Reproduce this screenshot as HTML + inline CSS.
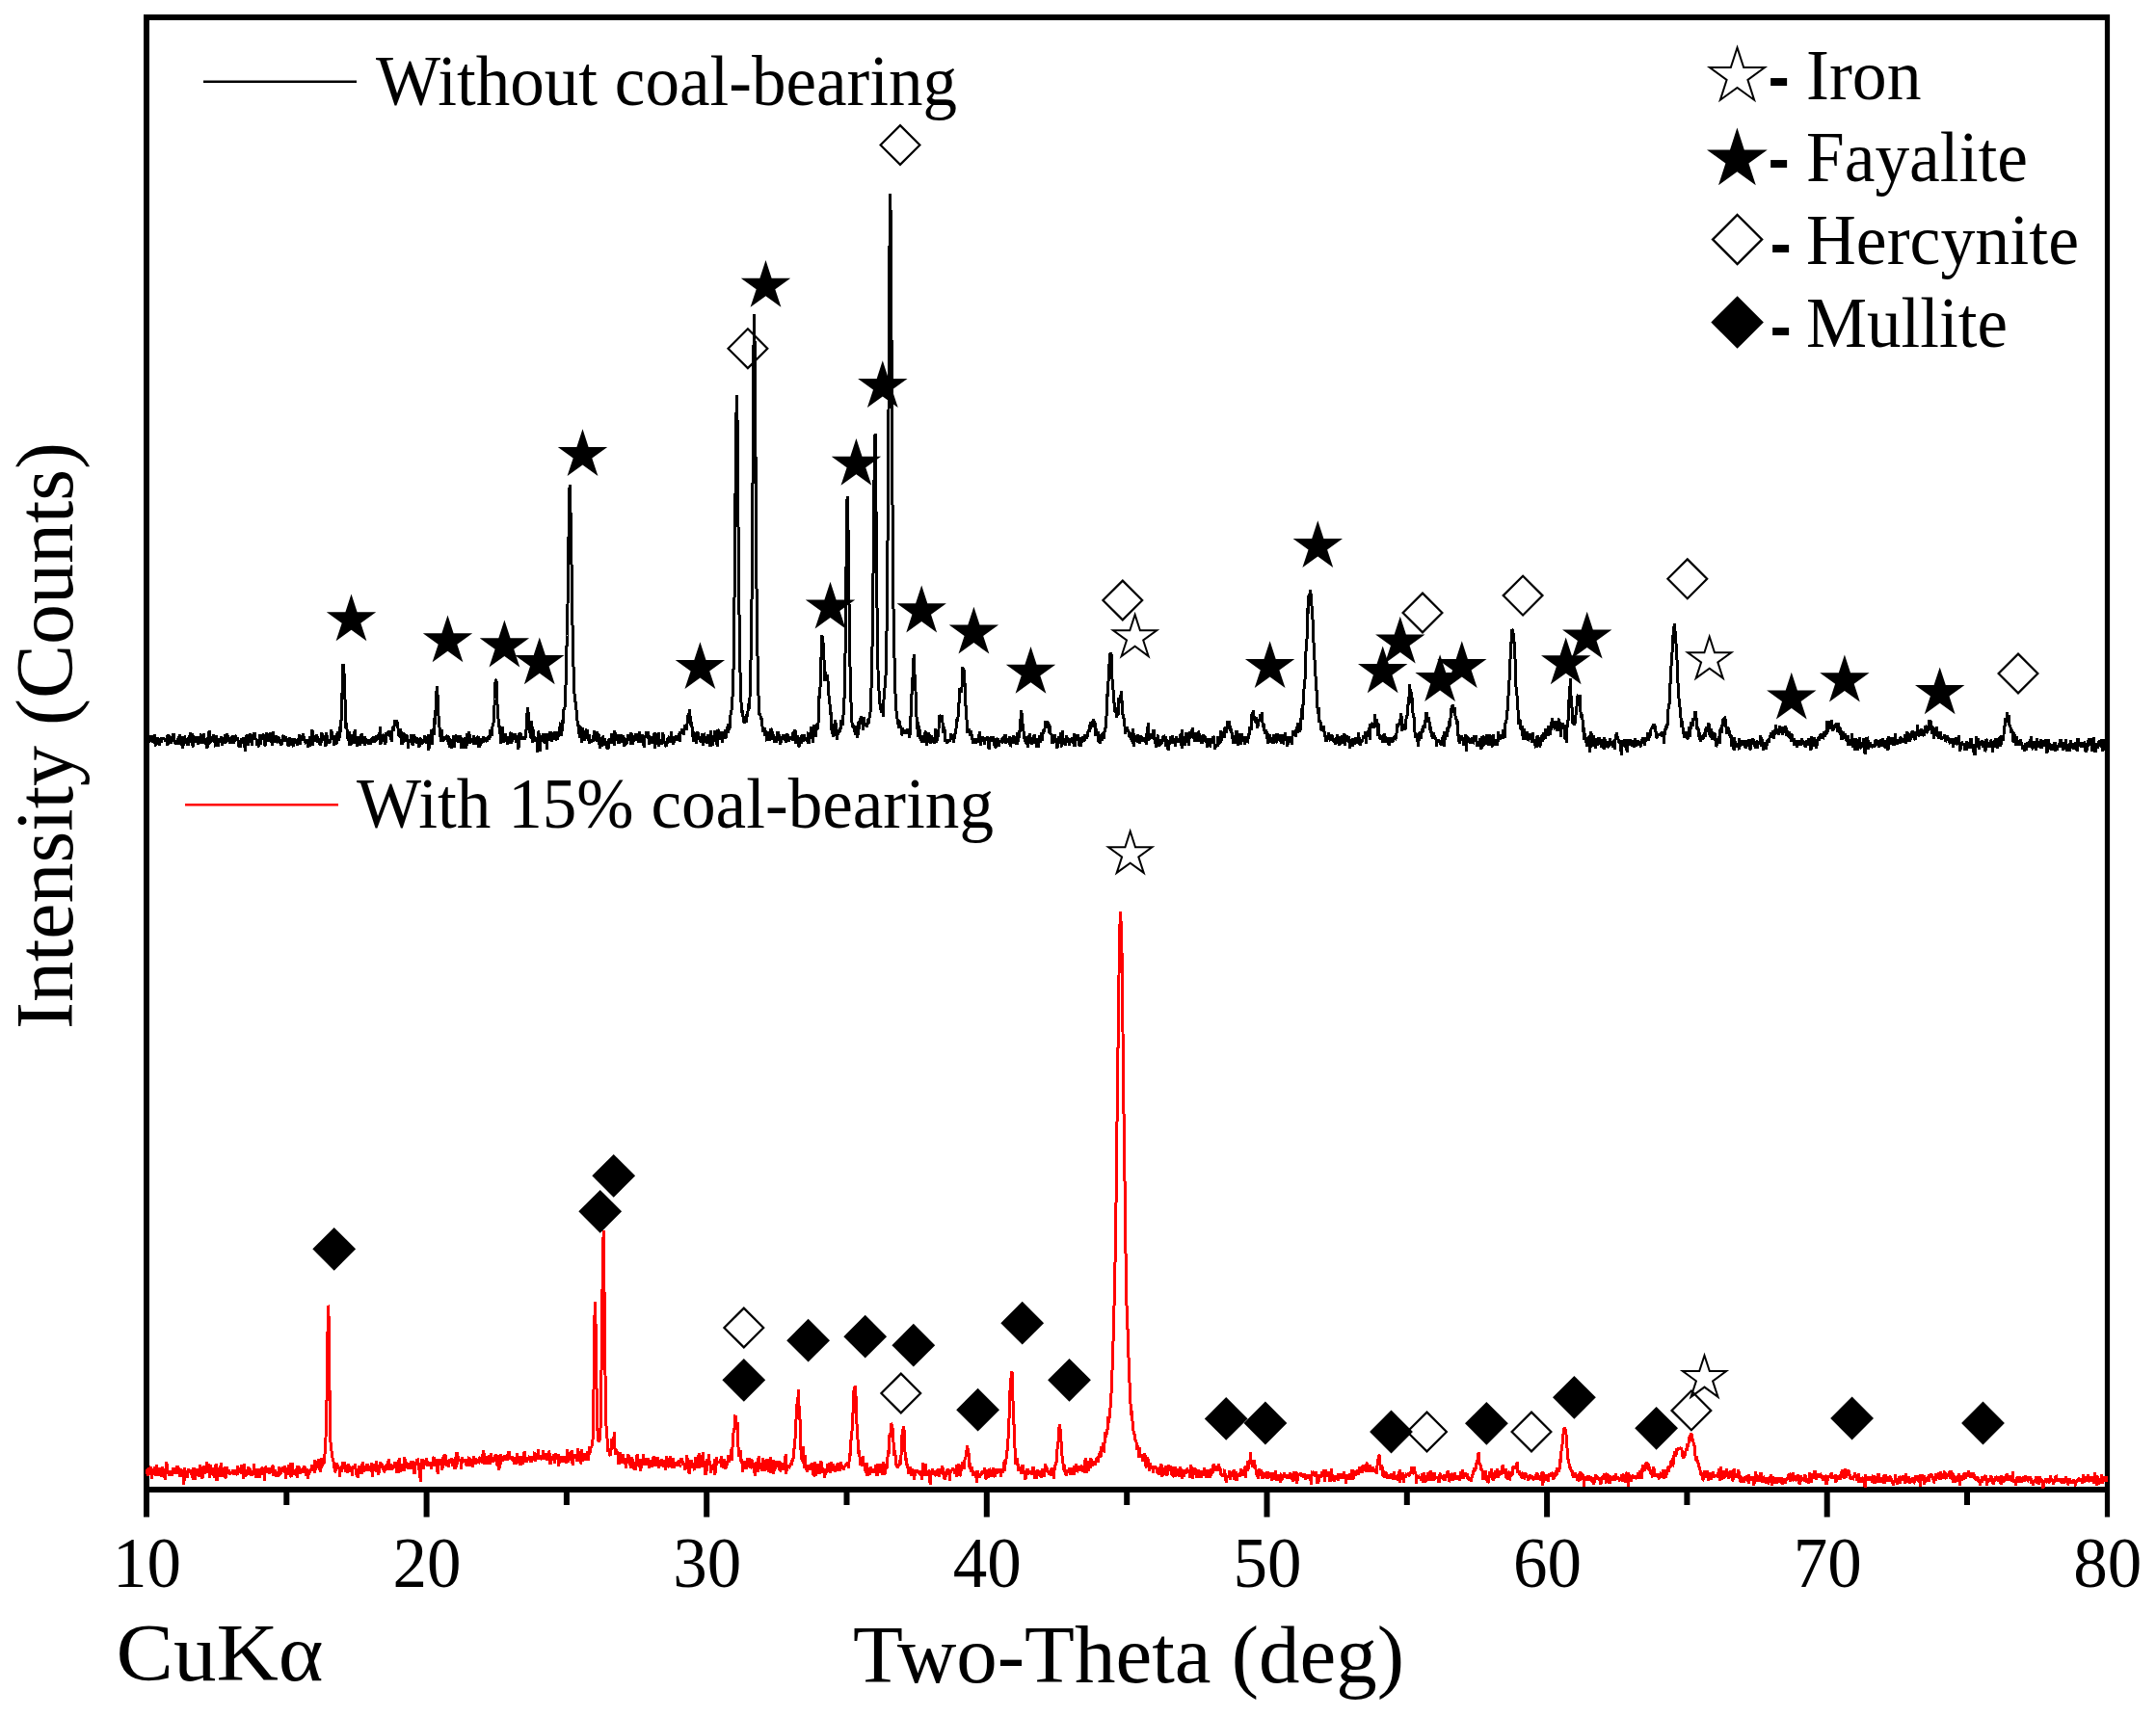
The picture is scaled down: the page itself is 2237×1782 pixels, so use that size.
<!DOCTYPE html>
<html><head><meta charset="utf-8"><title>XRD patterns</title>
<style>
html,body{margin:0;padding:0;background:#fff;}
body{width:2237px;height:1782px;overflow:hidden;}
svg{display:block;}
text{font-family:"Liberation Serif",serif;fill:#000;}
.ds{font-family:"Liberation Sans",sans-serif;font-weight:bold;}
</style></head><body>
<svg width="2237" height="1782" viewBox="0 0 2237 1782">
<rect width="2237" height="1782" fill="#fff"/>
<path d="M149 18H2189M149 1546H2189M152 15V1549" stroke="#000" stroke-width="6" fill="none"/>
<path d="M2186.5 15V1574.5" stroke="#000" stroke-width="5.2" fill="none"/>
<path d="M152.0 1546V1574.5M297.3 1546V1562M442.6 1546V1574.5M587.9 1546V1562M733.2 1546V1574.5M878.5 1546V1562M1023.8 1546V1574.5M1169.2 1546V1562M1314.5 1546V1574.5M1459.8 1546V1562M1605.1 1546V1574.5M1750.4 1546V1562M1895.7 1546V1574.5M2041.0 1546V1562" stroke="#000" stroke-width="6" fill="none"/>
<polyline fill="none" stroke="#000" stroke-width="3" stroke-linejoin="miter" stroke-miterlimit="2" shape-rendering="crispEdges" points="152.0,775.0 152.6,766.8 153.2,766.0 153.7,757.3 154.3,767.9 154.9,766.7 155.5,765.8 156.1,769.2 156.6,769.7 157.2,763.7 157.8,764.4 158.4,766.1 159.0,770.7 159.6,770.2 160.1,762.7 160.7,763.5 161.3,770.9 161.9,774.3 162.5,767.9 163.0,765.2 163.6,772.4 164.2,766.7 164.8,770.9 165.4,774.2 165.9,770.5 166.5,769.4 167.1,770.9 167.7,765.4 168.3,767.3 168.9,765.7 169.4,767.2 170.0,766.0 170.6,767.2 171.2,766.5 171.8,768.3 172.3,768.2 172.9,769.2 173.5,773.6 174.1,761.8 174.7,773.2 175.2,767.0 175.8,763.0 176.4,767.3 177.0,768.4 177.6,772.3 178.2,763.7 178.7,768.9 179.3,768.5 179.9,761.2 180.5,763.2 181.1,770.4 181.6,770.8 182.2,772.4 182.8,770.1 183.4,769.6 184.0,768.5 184.5,772.8 185.1,764.6 185.7,767.4 186.3,769.5 186.9,761.7 187.5,773.3 188.0,764.8 188.6,767.7 189.2,776.7 189.8,764.7 190.4,765.9 190.9,774.3 191.5,763.7 192.1,766.3 192.7,770.1 193.3,769.8 193.8,770.4 194.4,769.5 195.0,773.4 195.6,772.1 196.2,762.7 196.8,765.3 197.3,765.1 197.9,760.4 198.5,770.8 199.1,760.7 199.7,771.5 200.2,775.4 200.8,763.8 201.4,765.3 202.0,766.1 202.6,771.3 203.1,764.5 203.7,767.5 204.3,765.9 204.9,767.0 205.5,773.2 206.1,764.1 206.6,768.3 207.2,769.1 207.8,771.5 208.4,762.9 209.0,763.0 209.5,769.8 210.1,771.5 210.7,768.3 211.3,761.4 211.9,765.4 212.4,771.3 213.0,768.2 213.6,767.8 214.2,775.2 214.8,776.8 215.4,767.9 215.9,775.8 216.5,760.0 217.1,759.8 217.7,771.5 218.3,767.0 218.8,770.3 219.4,768.4 220.0,767.7 220.6,763.9 221.2,768.6 221.7,761.9 222.3,768.9 222.9,768.8 223.5,775.4 224.1,763.5 224.6,768.1 225.2,766.3 225.8,767.5 226.4,774.7 227.0,769.5 227.6,766.2 228.1,768.6 228.7,771.1 229.3,764.0 229.9,767.0 230.5,774.2 231.0,771.5 231.6,767.8 232.2,766.1 232.8,767.4 233.4,761.8 233.9,771.8 234.5,769.4 235.1,768.6 235.7,760.9 236.3,765.2 236.9,770.1 237.4,769.1 238.0,766.0 238.6,770.1 239.2,771.8 239.8,765.3 240.3,765.9 240.9,764.6 241.5,763.4 242.1,771.2 242.7,770.1 243.2,769.4 243.8,763.3 244.4,763.8 245.0,767.8 245.6,766.4 246.2,768.5 246.7,765.2 247.3,770.7 247.9,775.2 248.5,774.2 249.1,774.5 249.6,768.3 250.2,771.7 250.8,766.5 251.4,771.7 252.0,766.5 252.5,766.1 253.1,765.5 253.7,770.8 254.3,779.9 254.9,768.8 255.5,763.5 256.0,768.6 256.6,762.3 257.2,774.0 257.8,767.5 258.4,768.8 258.9,767.6 259.5,761.7 260.1,762.6 260.7,767.9 261.3,774.0 261.8,763.6 262.4,765.2 263.0,767.9 263.6,761.3 264.2,761.3 264.8,766.4 265.3,767.9 265.9,766.5 266.5,774.2 267.1,767.4 267.7,769.5 268.2,774.4 268.8,774.9 269.4,761.7 270.0,766.5 270.6,772.7 271.1,762.5 271.7,764.4 272.3,762.9 272.9,762.6 273.5,763.5 274.1,768.8 274.6,773.1 275.2,774.2 275.8,768.1 276.4,760.2 277.0,767.8 277.5,766.7 278.1,769.5 278.7,767.5 279.3,760.9 279.9,769.7 280.4,759.8 281.0,765.3 281.6,769.3 282.2,769.5 282.8,774.3 283.4,758.6 283.9,769.4 284.5,770.8 285.1,766.7 285.7,770.6 286.3,763.6 286.8,770.7 287.4,770.2 288.0,764.1 288.6,765.4 289.2,767.3 289.7,765.4 290.3,772.2 290.9,768.7 291.5,773.3 292.1,772.8 292.7,768.3 293.2,767.3 293.8,764.3 294.4,764.8 295.0,764.8 295.6,769.4 296.1,764.5 296.7,768.4 297.3,768.8 297.9,766.1 298.5,767.3 299.0,773.8 299.6,774.5 300.2,764.9 300.8,767.3 301.4,766.6 301.9,766.9 302.5,774.2 303.1,770.8 303.7,773.1 304.3,775.2 304.9,766.3 305.4,767.3 306.0,768.2 306.6,772.1 307.2,767.7 307.8,770.6 308.3,772.7 308.9,772.7 309.5,769.8 310.1,764.9 310.7,761.8 311.2,772.5 311.8,769.9 312.4,764.3 313.0,766.0 313.6,766.2 314.2,761.3 314.7,769.0 315.3,764.9 315.9,766.8 316.5,771.0 317.1,767.6 317.6,770.2 318.2,769.7 318.8,768.1 319.4,768.2 320.0,775.5 320.5,767.3 321.1,774.5 321.7,764.3 322.3,770.9 322.9,768.7 323.5,765.1 324.0,757.4 324.6,774.4 325.2,763.3 325.8,764.1 326.4,768.5 326.9,768.2 327.5,769.1 328.1,766.9 328.7,761.9 329.3,771.4 329.8,764.3 330.4,768.8 331.0,770.2 331.6,772.6 332.2,767.0 332.8,773.6 333.3,766.9 333.9,760.2 334.5,764.8 335.1,763.8 335.7,763.2 336.2,768.5 336.8,766.5 337.4,774.2 338.0,773.7 338.6,760.1 339.1,768.2 339.7,763.6 340.3,769.9 340.9,768.2 341.5,771.3 342.1,768.8 342.6,770.5 343.2,766.2 343.8,757.2 344.4,762.5 345.0,763.7 345.5,765.1 346.1,762.8 346.7,773.5 347.3,766.0 347.9,771.8 348.4,764.8 349.0,772.7 349.6,760.6 350.2,767.6 350.8,759.0 351.4,765.5 351.9,769.2 352.5,753.8 353.1,759.5 353.7,753.5 354.3,742.2 354.8,721.7 355.4,713.4 356.0,689.4 356.6,691.5 357.2,701.7 357.7,715.6 358.3,735.9 358.9,755.5 359.5,750.2 360.1,757.8 360.7,764.5 361.2,767.5 361.8,767.6 362.4,758.8 363.0,774.0 363.6,765.1 364.1,766.2 364.7,766.4 365.3,765.6 365.9,762.8 366.5,765.6 367.0,772.4 367.6,761.6 368.2,757.4 368.8,769.5 369.4,768.7 369.9,770.4 370.5,774.5 371.1,764.6 371.7,768.3 372.3,769.6 372.9,772.6 373.4,774.1 374.0,764.3 374.6,762.2 375.2,766.6 375.8,761.3 376.3,772.2 376.9,766.2 377.5,766.4 378.1,764.2 378.7,773.9 379.2,769.0 379.8,766.2 380.4,770.3 381.0,767.5 381.6,770.2 382.2,773.2 382.7,766.8 383.3,769.9 383.9,769.8 384.5,772.4 385.1,770.3 385.6,768.0 386.2,765.3 386.8,769.1 387.4,763.7 388.0,770.5 388.5,768.1 389.1,770.1 389.7,765.8 390.3,764.6 390.9,764.2 391.5,763.3 392.0,767.0 392.6,766.9 393.2,760.6 393.8,767.6 394.4,753.9 394.9,773.3 395.5,766.8 396.1,767.8 396.7,762.0 397.3,763.3 397.8,770.1 398.4,766.8 399.0,769.3 399.6,772.7 400.2,770.2 400.8,759.8 401.3,763.4 401.9,762.7 402.5,763.5 403.1,758.6 403.7,759.4 404.2,763.6 404.8,763.9 405.4,768.0 406.0,763.8 406.6,770.0 407.1,755.0 407.7,754.7 408.3,759.0 408.9,753.8 409.5,747.4 410.1,752.3 410.6,752.0 411.2,753.0 411.8,747.3 412.4,751.9 413.0,756.2 413.5,758.5 414.1,765.1 414.7,760.7 415.3,765.7 415.9,756.1 416.4,769.0 417.0,773.1 417.6,766.6 418.2,771.1 418.8,760.3 419.4,765.8 419.9,761.0 420.5,768.6 421.1,769.5 421.7,762.0 422.3,764.1 422.8,765.2 423.4,777.4 424.0,767.3 424.6,768.2 425.2,769.1 425.7,768.9 426.3,766.8 426.9,762.4 427.5,765.0 428.1,774.3 428.7,763.5 429.2,766.3 429.8,762.3 430.4,767.6 431.0,767.9 431.6,765.2 432.1,771.4 432.7,765.4 433.3,767.1 433.9,771.1 434.5,774.6 435.0,775.0 435.6,766.8 436.2,766.0 436.8,769.6 437.4,768.5 438.0,772.4 438.5,769.3 439.1,767.5 439.7,769.4 440.3,770.2 440.9,763.0 441.4,766.9 442.0,766.0 442.6,772.2 443.2,765.3 443.8,771.4 444.3,761.9 444.9,778.6 445.5,771.0 446.1,765.4 446.7,770.9 447.2,757.5 447.8,765.5 448.4,773.0 449.0,763.3 449.6,756.0 450.2,762.6 450.7,745.4 451.3,752.4 451.9,739.2 452.5,730.2 453.1,715.4 453.6,712.5 454.2,725.5 454.8,737.9 455.4,752.4 456.0,755.0 456.5,762.1 457.1,764.7 457.7,769.9 458.3,756.7 458.9,766.2 459.5,768.7 460.0,769.1 460.6,764.3 461.2,765.7 461.8,766.6 462.4,767.6 462.9,764.9 463.5,764.7 464.1,762.9 464.7,765.9 465.3,773.1 465.8,763.8 466.4,771.5 467.0,775.5 467.6,768.5 468.2,777.2 468.8,767.2 469.3,774.5 469.9,767.7 470.5,763.0 471.1,769.3 471.7,775.5 472.2,765.6 472.8,769.9 473.4,764.0 474.0,764.4 474.6,769.8 475.1,767.3 475.7,770.3 476.3,765.9 476.9,763.3 477.5,765.3 478.1,768.2 478.6,777.3 479.2,766.8 479.8,766.1 480.4,769.8 481.0,776.5 481.5,765.8 482.1,766.9 482.7,768.3 483.3,771.1 483.9,776.8 484.4,763.1 485.0,761.5 485.6,768.8 486.2,770.3 486.8,759.2 487.4,765.7 487.9,772.0 488.5,766.0 489.1,770.1 489.7,768.8 490.3,770.7 490.8,769.9 491.4,763.5 492.0,773.1 492.6,765.8 493.2,768.6 493.7,772.6 494.3,765.8 494.9,766.5 495.5,765.0 496.1,764.2 496.7,776.1 497.2,769.8 497.8,775.4 498.4,770.8 499.0,768.1 499.6,766.6 500.1,768.8 500.7,767.5 501.3,771.3 501.9,764.0 502.5,768.1 503.0,769.2 503.6,766.2 504.2,766.1 504.8,769.1 505.4,768.9 506.0,765.9 506.5,766.0 507.1,763.4 507.7,767.5 508.3,764.2 508.9,757.4 509.4,761.6 510.0,764.0 510.6,760.3 511.2,751.7 511.8,753.3 512.3,744.7 512.9,734.0 513.5,725.5 514.1,705.5 514.7,705.9 515.2,708.1 515.8,726.0 516.4,739.2 517.0,746.3 517.6,754.7 518.2,752.9 518.7,762.2 519.3,756.6 519.9,771.9 520.5,768.6 521.1,758.2 521.6,754.1 522.2,770.8 522.8,762.3 523.4,768.3 524.0,761.0 524.5,766.7 525.1,767.7 525.7,769.2 526.3,765.5 526.9,772.9 527.5,763.9 528.0,772.2 528.6,767.1 529.2,769.3 529.8,760.8 530.4,760.2 530.9,771.5 531.5,762.4 532.1,765.9 532.7,766.0 533.3,761.6 533.8,768.2 534.4,761.7 535.0,762.6 535.6,771.0 536.2,764.1 536.8,770.3 537.3,769.9 537.9,777.6 538.5,769.0 539.1,759.7 539.7,764.4 540.2,765.3 540.8,761.6 541.4,768.1 542.0,764.6 542.6,768.1 543.1,764.5 543.7,767.6 544.3,765.1 544.9,767.3 545.5,760.6 546.1,757.0 546.6,743.5 547.2,738.3 547.8,734.5 548.4,746.6 549.0,753.9 549.5,758.7 550.1,760.9 550.7,763.3 551.3,767.2 551.9,748.0 552.4,771.2 553.0,756.7 553.6,765.7 554.2,765.3 554.8,769.7 555.4,767.7 555.9,766.7 556.5,767.2 557.1,770.7 557.7,781.2 558.3,768.4 558.8,758.6 559.4,765.2 560.0,768.6 560.6,780.3 561.2,763.7 561.7,765.3 562.3,769.0 562.9,768.0 563.5,761.3 564.1,770.5 564.7,761.2 565.2,765.4 565.8,771.8 566.4,761.0 567.0,764.9 567.6,777.6 568.1,765.1 568.7,761.8 569.3,763.6 569.9,769.2 570.5,759.3 571.0,763.0 571.6,759.4 572.2,760.5 572.8,770.3 573.4,764.5 574.0,762.8 574.5,766.1 575.1,761.2 575.7,758.9 576.3,768.2 576.9,766.8 577.4,759.2 578.0,765.2 578.6,767.8 579.2,763.2 579.8,762.5 580.3,754.4 580.9,758.1 581.5,749.6 582.1,764.2 582.7,754.0 583.3,758.6 583.8,747.1 584.4,751.3 585.0,736.4 585.6,736.1 586.2,732.5 586.7,720.4 587.3,702.6 587.9,673.2 588.5,659.5 589.1,621.3 589.6,584.3 590.2,545.2 590.8,507.6 591.4,503.1 592.0,531.4 592.5,545.8 593.1,592.6 593.7,626.2 594.3,670.8 594.9,689.2 595.5,703.3 596.0,719.8 596.6,726.3 597.2,729.6 597.8,732.8 598.4,745.3 598.9,746.3 599.5,754.1 600.1,751.7 600.7,757.7 601.3,765.5 601.8,754.0 602.4,754.7 603.0,764.8 603.6,771.2 604.2,758.2 604.8,755.3 605.3,761.7 605.9,768.9 606.5,766.6 607.1,759.5 607.7,763.2 608.2,763.2 608.8,758.2 609.4,758.5 610.0,767.0 610.6,767.6 611.1,762.2 611.7,772.1 612.3,769.7 612.9,767.8 613.5,768.6 614.1,767.6 614.6,769.2 615.2,769.9 615.8,766.7 616.4,758.1 617.0,765.9 617.5,763.2 618.1,761.8 618.7,769.2 619.3,759.5 619.9,770.3 620.4,764.3 621.0,762.0 621.6,763.5 622.2,776.6 622.8,773.1 623.4,766.0 623.9,771.6 624.5,774.5 625.1,763.7 625.7,766.1 626.3,771.1 626.8,769.0 627.4,765.9 628.0,774.0 628.6,769.5 629.2,770.7 629.7,777.2 630.3,769.5 630.9,778.3 631.5,768.8 632.1,766.9 632.7,768.1 633.2,771.2 633.8,770.3 634.4,769.1 635.0,761.6 635.6,763.2 636.1,766.6 636.7,770.6 637.3,773.6 637.9,757.9 638.5,767.1 639.0,765.8 639.6,767.3 640.2,768.6 640.8,764.3 641.4,762.3 642.0,771.9 642.5,770.8 643.1,766.1 643.7,767.3 644.3,765.8 644.9,762.0 645.4,770.4 646.0,765.1 646.6,763.2 647.2,765.4 647.8,774.5 648.3,769.6 648.9,768.8 649.5,768.2 650.1,771.3 650.7,770.8 651.3,762.5 651.8,766.9 652.4,765.2 653.0,768.7 653.6,767.6 654.2,759.7 654.7,772.5 655.3,768.9 655.9,760.8 656.5,772.5 657.1,768.3 657.6,769.7 658.2,767.9 658.8,768.5 659.4,765.8 660.0,761.1 660.5,765.3 661.1,767.3 661.7,767.9 662.3,770.4 662.9,767.4 663.5,758.7 664.0,770.7 664.6,764.5 665.2,762.3 665.8,766.4 666.4,762.2 666.9,769.2 667.5,764.0 668.1,775.6 668.7,766.7 669.3,765.4 669.8,765.0 670.4,758.9 671.0,764.2 671.6,764.6 672.2,766.3 672.8,758.7 673.3,767.8 673.9,772.9 674.5,765.9 675.1,767.5 675.7,769.4 676.2,764.4 676.8,765.9 677.4,771.6 678.0,768.5 678.6,762.7 679.1,760.5 679.7,777.0 680.3,769.5 680.9,761.3 681.5,768.4 682.1,770.5 682.6,768.2 683.2,760.2 683.8,775.1 684.4,770.2 685.0,767.0 685.5,770.5 686.1,766.9 686.7,772.5 687.3,771.4 687.9,759.7 688.4,771.8 689.0,769.4 689.6,770.8 690.2,771.4 690.8,774.1 691.4,773.6 691.9,771.3 692.5,766.2 693.1,770.5 693.7,765.8 694.3,763.8 694.8,769.5 695.4,769.1 696.0,769.1 696.6,758.9 697.2,770.0 697.7,770.3 698.3,768.0 698.9,772.8 699.5,763.9 700.1,768.7 700.7,765.8 701.2,767.1 701.8,763.0 702.4,766.2 703.0,769.2 703.6,766.4 704.1,766.7 704.7,761.2 705.3,770.0 705.9,759.1 706.5,760.6 707.0,761.4 707.6,756.7 708.2,759.5 708.8,756.2 709.4,762.4 710.0,757.4 710.5,756.9 711.1,751.7 711.7,756.6 712.3,757.6 712.9,752.9 713.4,744.2 714.0,742.7 714.6,741.4 715.2,741.4 715.8,736.1 716.3,753.3 716.9,748.4 717.5,753.3 718.1,754.5 718.7,759.1 719.3,769.7 719.8,759.3 720.4,762.2 721.0,760.8 721.6,763.3 722.2,772.2 722.7,763.6 723.3,764.5 723.9,759.1 724.5,765.1 725.1,767.6 725.6,764.7 726.2,765.2 726.8,770.1 727.4,769.0 728.0,766.5 728.6,763.7 729.1,760.8 729.7,773.7 730.3,760.6 730.9,769.5 731.5,766.1 732.0,763.9 732.6,770.5 733.2,763.8 733.8,771.9 734.4,762.6 734.9,768.8 735.5,765.5 736.1,762.8 736.7,775.1 737.3,770.1 737.8,757.6 738.4,772.1 739.0,774.2 739.6,765.3 740.2,765.5 740.8,767.7 741.3,758.4 741.9,766.6 742.5,769.7 743.1,763.5 743.7,770.2 744.2,774.5 744.8,757.4 745.4,757.8 746.0,762.1 746.6,767.4 747.1,766.2 747.7,760.6 748.3,759.5 748.9,760.9 749.5,770.6 750.1,759.3 750.6,760.4 751.2,766.3 751.8,760.8 752.4,757.2 753.0,766.7 753.5,761.3 754.1,756.2 754.7,756.4 755.3,760.8 755.9,751.5 756.4,754.9 757.0,755.5 757.6,753.4 758.2,737.6 758.8,739.0 759.4,733.2 759.9,725.5 760.5,713.3 761.1,691.5 761.7,647.9 762.3,594.6 762.8,538.5 763.4,466.6 764.0,427.9 764.6,410.4 765.2,447.6 765.7,517.3 766.3,574.1 766.9,630.4 767.5,671.5 768.1,702.8 768.7,723.3 769.2,731.8 769.8,738.5 770.4,738.6 771.0,744.2 771.6,743.6 772.1,751.0 772.7,744.0 773.3,746.7 773.9,747.8 774.5,749.5 775.0,741.7 775.6,742.0 776.2,736.6 776.8,730.5 777.4,735.8 778.0,724.4 778.5,701.7 779.1,681.6 779.7,653.3 780.3,594.1 780.9,519.3 781.4,446.5 782.0,358.6 782.6,326.0 783.2,365.5 783.8,436.7 784.3,526.6 784.9,599.9 785.5,656.2 786.1,685.0 786.7,716.3 787.3,727.0 787.8,742.4 788.4,741.5 789.0,742.6 789.6,746.0 790.2,746.1 790.7,753.1 791.3,754.7 791.9,760.2 792.5,758.0 793.1,755.1 793.6,763.9 794.2,758.5 794.8,762.1 795.4,767.7 796.0,767.4 796.6,759.5 797.1,762.5 797.7,768.9 798.3,767.7 798.9,766.2 799.5,767.8 800.0,755.6 800.6,763.4 801.2,758.9 801.8,762.4 802.4,763.6 802.9,767.2 803.5,770.2 804.1,768.7 804.7,770.9 805.3,764.3 805.8,771.0 806.4,765.1 807.0,758.8 807.6,765.8 808.2,768.1 808.8,762.3 809.3,767.1 809.9,772.4 810.5,765.3 811.1,766.1 811.7,766.2 812.2,762.5 812.8,764.5 813.4,762.4 814.0,765.3 814.6,763.3 815.1,770.4 815.7,766.1 816.3,770.0 816.9,761.5 817.5,766.5 818.1,768.9 818.6,769.4 819.2,764.1 819.8,766.2 820.4,767.1 821.0,765.3 821.5,765.0 822.1,768.8 822.7,761.9 823.3,759.4 823.9,764.7 824.4,767.8 825.0,757.4 825.6,772.1 826.2,767.1 826.8,769.0 827.4,763.3 827.9,766.5 828.5,774.0 829.1,774.1 829.7,769.1 830.3,765.4 830.8,766.1 831.4,771.8 832.0,763.6 832.6,762.6 833.2,765.8 833.7,770.0 834.3,761.9 834.9,767.6 835.5,767.6 836.1,766.5 836.7,765.2 837.2,769.5 837.8,768.0 838.4,759.6 839.0,771.9 839.6,767.0 840.1,766.3 840.7,763.3 841.3,763.3 841.9,753.9 842.5,763.0 843.0,766.0 843.6,770.9 844.2,759.9 844.8,752.3 845.4,756.7 846.0,759.3 846.5,764.9 847.1,751.3 847.7,756.3 848.3,755.9 848.9,751.9 849.4,742.6 850.0,721.7 850.6,724.9 851.2,707.4 851.8,692.0 852.3,667.9 852.9,658.8 853.5,667.2 854.1,667.6 854.7,680.6 855.3,689.1 855.8,706.6 856.4,696.7 857.0,701.8 857.6,704.0 858.2,700.0 858.7,705.5 859.3,708.6 859.9,721.5 860.5,723.1 861.1,732.4 861.6,741.9 862.2,739.0 862.8,757.5 863.4,750.7 864.0,761.6 864.6,764.4 865.1,763.5 865.7,760.7 866.3,757.6 866.9,746.9 867.5,762.9 868.0,759.5 868.6,767.6 869.2,758.9 869.8,762.4 870.4,757.6 870.9,760.5 871.5,756.3 872.1,756.0 872.7,747.2 873.3,750.3 873.9,750.2 874.4,752.7 875.0,742.7 875.6,726.5 876.2,723.6 876.8,692.6 877.3,659.3 877.9,600.7 878.5,536.3 879.1,515.4 879.7,519.4 880.2,567.3 880.8,610.1 881.4,659.5 882.0,691.6 882.6,721.3 883.1,730.4 883.7,748.9 884.3,751.3 884.9,754.8 885.5,752.5 886.1,756.1 886.6,760.0 887.2,753.5 887.8,762.9 888.4,757.3 889.0,762.7 889.5,766.1 890.1,762.0 890.7,749.0 891.3,757.0 891.9,748.5 892.4,746.7 893.0,746.9 893.6,743.3 894.2,750.7 894.8,748.3 895.4,757.9 895.9,755.9 896.5,744.4 897.1,751.9 897.7,751.8 898.3,754.0 898.8,752.3 899.4,755.0 900.0,752.0 900.6,746.2 901.2,750.5 901.7,749.6 902.3,741.7 902.9,741.2 903.5,729.3 904.1,711.2 904.7,690.4 905.2,659.6 905.8,616.1 906.4,555.7 907.0,498.6 907.6,458.2 908.1,450.0 908.7,495.7 909.3,563.0 909.9,621.8 910.5,666.9 911.0,695.1 911.6,713.8 912.2,718.1 912.8,730.7 913.4,730.0 914.0,736.9 914.5,739.9 915.1,732.9 915.7,733.8 916.3,744.0 916.9,726.6 917.4,723.3 918.0,714.3 918.6,703.2 919.2,700.1 919.8,669.3 920.3,633.7 920.9,578.7 921.5,491.5 922.1,413.8 922.7,298.6 923.3,214.6 923.8,201.3 924.4,249.2 925.0,352.9 925.6,458.9 926.2,553.3 926.7,605.7 927.3,655.2 927.9,677.4 928.5,707.0 929.1,722.3 929.6,726.1 930.2,743.2 930.8,742.4 931.4,751.5 932.0,746.7 932.6,756.3 933.1,748.3 933.7,754.1 934.3,754.3 934.9,753.2 935.5,763.1 936.0,762.5 936.6,754.8 937.2,761.2 937.8,759.2 938.4,759.9 938.9,762.1 939.5,757.6 940.1,760.6 940.7,761.1 941.3,757.1 941.9,757.1 942.4,762.2 943.0,757.6 943.6,765.7 944.2,761.8 944.8,744.7 945.3,742.1 945.9,721.8 946.5,715.4 947.1,700.7 947.7,689.9 948.2,679.3 948.8,696.4 949.4,708.0 950.0,717.4 950.6,727.0 951.1,747.1 951.7,757.0 952.3,749.2 952.9,764.6 953.5,752.7 954.1,757.8 954.6,760.6 955.2,769.3 955.8,766.0 956.4,766.4 957.0,770.8 957.5,765.6 958.1,763.1 958.7,771.2 959.3,764.5 959.9,760.4 960.4,758.7 961.0,766.5 961.6,773.6 962.2,769.1 962.8,766.4 963.4,771.1 963.9,760.2 964.5,768.1 965.1,764.2 965.7,771.9 966.3,763.0 966.8,769.6 967.4,769.1 968.0,766.3 968.6,770.0 969.2,765.5 969.7,771.7 970.3,764.7 970.9,756.2 971.5,770.3 972.1,768.8 972.7,763.9 973.2,763.8 973.8,760.0 974.4,750.4 975.0,741.9 975.6,743.3 976.1,744.9 976.7,748.5 977.3,741.9 977.9,747.1 978.5,760.7 979.0,754.4 979.6,756.8 980.2,758.0 980.8,770.0 981.4,767.6 982.0,768.6 982.5,772.1 983.1,769.5 983.7,771.2 984.3,767.3 984.9,769.4 985.4,768.3 986.0,768.5 986.6,760.8 987.2,764.5 987.8,763.7 988.3,762.2 988.9,764.2 989.5,771.1 990.1,766.5 990.7,761.5 991.3,760.2 991.8,761.6 992.4,746.2 993.0,747.8 993.6,747.5 994.2,742.0 994.7,732.4 995.3,726.8 995.9,713.9 996.5,717.6 997.1,718.8 997.6,717.1 998.2,711.4 998.8,691.8 999.4,694.3 1000.0,697.5 1000.6,695.6 1001.1,711.9 1001.7,727.2 1002.3,737.0 1002.9,745.2 1003.5,754.2 1004.0,760.4 1004.6,757.6 1005.2,756.6 1005.8,759.5 1006.4,761.4 1006.9,764.0 1007.5,758.7 1008.1,762.2 1008.7,764.6 1009.3,771.4 1009.9,768.3 1010.4,765.9 1011.0,770.2 1011.6,767.6 1012.2,766.2 1012.8,771.4 1013.3,768.7 1013.9,768.0 1014.5,770.4 1015.1,765.5 1015.7,767.9 1016.2,759.5 1016.8,766.2 1017.4,774.0 1018.0,766.6 1018.6,768.0 1019.2,766.4 1019.7,764.1 1020.3,770.1 1020.9,768.1 1021.5,772.5 1022.1,764.8 1022.6,768.4 1023.2,767.0 1023.8,766.0 1024.4,765.6 1025.0,765.5 1025.5,764.9 1026.1,778.4 1026.7,768.2 1027.3,767.7 1027.9,770.3 1028.4,764.6 1029.0,769.9 1029.6,763.9 1030.2,766.7 1030.8,766.3 1031.4,773.9 1031.9,771.1 1032.5,775.9 1033.1,775.2 1033.7,766.0 1034.3,770.7 1034.8,767.0 1035.4,766.2 1036.0,773.4 1036.6,774.3 1037.2,769.2 1037.7,770.0 1038.3,768.5 1038.9,770.0 1039.5,770.1 1040.1,764.8 1040.7,771.1 1041.2,766.0 1041.8,764.1 1042.4,768.2 1043.0,761.8 1043.6,772.0 1044.1,770.2 1044.7,769.8 1045.3,766.1 1045.9,770.2 1046.5,769.5 1047.0,765.9 1047.6,765.7 1048.2,775.3 1048.8,771.5 1049.4,764.9 1050.0,768.9 1050.5,767.4 1051.1,772.1 1051.7,763.1 1052.3,766.5 1052.9,767.0 1053.4,770.3 1054.0,766.6 1054.6,773.3 1055.2,760.3 1055.8,773.0 1056.3,766.9 1056.9,767.4 1057.5,758.1 1058.1,759.5 1058.7,747.7 1059.3,745.3 1059.8,737.2 1060.4,743.8 1061.0,754.5 1061.6,751.5 1062.2,762.6 1062.7,764.0 1063.3,769.8 1063.9,764.4 1064.5,768.3 1065.1,772.9 1065.6,764.5 1066.2,775.5 1066.8,769.1 1067.4,767.3 1068.0,762.9 1068.6,761.3 1069.1,772.1 1069.7,766.5 1070.3,765.9 1070.9,772.5 1071.5,771.0 1072.0,768.8 1072.6,764.5 1073.2,762.4 1073.8,772.0 1074.4,768.0 1074.9,767.1 1075.5,775.6 1076.1,766.3 1076.7,769.3 1077.3,776.1 1077.9,769.8 1078.4,764.7 1079.0,763.0 1079.6,770.6 1080.2,759.8 1080.8,767.0 1081.3,768.8 1081.9,760.0 1082.5,761.9 1083.1,756.7 1083.7,760.3 1084.2,753.6 1084.8,748.0 1085.4,751.7 1086.0,750.8 1086.6,748.3 1087.2,756.1 1087.7,749.3 1088.3,752.9 1088.9,761.2 1089.5,752.8 1090.1,763.3 1090.6,761.8 1091.2,762.4 1091.8,771.4 1092.4,769.3 1093.0,764.7 1093.5,768.2 1094.1,771.3 1094.7,761.7 1095.3,768.9 1095.9,767.2 1096.4,769.8 1097.0,776.7 1097.6,765.8 1098.2,767.1 1098.8,763.8 1099.4,769.4 1099.9,771.0 1100.5,759.7 1101.1,774.4 1101.7,774.9 1102.3,758.2 1102.8,762.7 1103.4,770.6 1104.0,769.1 1104.6,773.3 1105.2,767.6 1105.7,773.8 1106.3,763.4 1106.9,770.4 1107.5,767.1 1108.1,766.9 1108.7,768.7 1109.2,767.2 1109.8,774.2 1110.4,766.2 1111.0,767.9 1111.6,769.3 1112.1,765.0 1112.7,769.8 1113.3,771.0 1113.9,767.8 1114.5,761.4 1115.0,774.7 1115.6,768.9 1116.2,768.6 1116.8,767.8 1117.4,766.3 1118.0,762.0 1118.5,768.3 1119.1,769.1 1119.7,772.3 1120.3,774.9 1120.9,765.5 1121.4,774.6 1122.0,768.5 1122.6,770.4 1123.2,763.9 1123.8,769.2 1124.3,763.9 1124.9,770.1 1125.5,762.0 1126.1,766.7 1126.7,764.2 1127.3,766.5 1127.8,765.0 1128.4,763.3 1129.0,759.0 1129.6,757.2 1130.2,759.7 1130.7,752.0 1131.3,756.9 1131.9,749.0 1132.5,751.0 1133.1,749.9 1133.6,750.3 1134.2,755.2 1134.8,745.8 1135.4,751.1 1136.0,749.7 1136.6,764.0 1137.1,762.8 1137.7,755.7 1138.3,764.3 1138.9,762.4 1139.5,759.4 1140.0,769.4 1140.6,769.2 1141.2,766.2 1141.8,771.4 1142.4,764.9 1142.9,762.8 1143.5,768.8 1144.1,759.7 1144.7,765.2 1145.3,765.3 1145.9,760.0 1146.4,757.3 1147.0,755.8 1147.6,750.4 1148.2,740.4 1148.8,719.8 1149.3,723.4 1149.9,707.3 1150.5,705.7 1151.1,686.3 1151.7,679.5 1152.2,677.3 1152.8,680.8 1153.4,679.3 1154.0,704.7 1154.6,710.0 1155.2,718.6 1155.7,719.5 1156.3,738.4 1156.9,736.1 1157.5,740.3 1158.1,735.0 1158.6,744.8 1159.2,742.2 1159.8,733.7 1160.4,742.3 1161.0,724.1 1161.5,729.7 1162.1,726.1 1162.7,725.2 1163.3,716.8 1163.9,724.8 1164.5,735.6 1165.0,741.7 1165.6,742.4 1166.2,746.7 1166.8,750.1 1167.4,761.6 1167.9,758.2 1168.5,758.7 1169.1,754.8 1169.7,756.5 1170.3,760.0 1170.8,756.9 1171.4,764.0 1172.0,764.8 1172.6,762.3 1173.2,767.7 1173.7,766.4 1174.3,759.9 1174.9,770.0 1175.5,756.2 1176.1,775.2 1176.7,761.6 1177.2,767.7 1177.8,766.2 1178.4,769.2 1179.0,764.8 1179.6,770.0 1180.1,761.6 1180.7,770.9 1181.3,766.7 1181.9,769.3 1182.5,771.8 1183.0,762.8 1183.6,765.1 1184.2,764.3 1184.8,766.6 1185.4,767.4 1186.0,769.3 1186.5,766.9 1187.1,765.0 1187.7,767.4 1188.3,769.0 1188.9,768.3 1189.4,772.5 1190.0,761.0 1190.6,764.2 1191.2,750.4 1191.8,760.2 1192.3,765.6 1192.9,768.3 1193.5,761.4 1194.1,765.7 1194.7,764.5 1195.3,766.8 1195.8,766.1 1196.4,763.7 1197.0,757.1 1197.6,760.5 1198.2,768.5 1198.7,767.0 1199.3,775.9 1199.9,768.1 1200.5,771.7 1201.1,763.6 1201.6,763.0 1202.2,769.4 1202.8,775.3 1203.4,770.4 1204.0,767.6 1204.6,770.5 1205.1,771.4 1205.7,770.7 1206.3,769.1 1206.9,764.9 1207.5,764.6 1208.0,767.1 1208.6,768.6 1209.2,764.0 1209.8,775.3 1210.4,771.5 1210.9,767.1 1211.5,772.1 1212.1,778.6 1212.7,770.1 1213.3,770.0 1213.9,773.2 1214.4,763.9 1215.0,767.0 1215.6,766.2 1216.2,772.2 1216.8,762.6 1217.3,770.5 1217.9,767.3 1218.5,768.1 1219.1,767.0 1219.7,774.9 1220.2,765.8 1220.8,764.5 1221.4,770.4 1222.0,766.9 1222.6,771.1 1223.2,768.9 1223.7,769.2 1224.3,769.3 1224.9,762.4 1225.5,761.1 1226.1,776.8 1226.6,757.3 1227.2,770.8 1227.8,764.2 1228.4,768.1 1229.0,767.3 1229.5,773.8 1230.1,767.0 1230.7,761.4 1231.3,761.5 1231.9,767.9 1232.5,769.7 1233.0,769.2 1233.6,773.7 1234.2,758.9 1234.8,763.6 1235.4,758.7 1235.9,764.3 1236.5,766.1 1237.1,755.2 1237.7,766.0 1238.3,765.5 1238.8,761.7 1239.4,760.6 1240.0,770.1 1240.6,763.3 1241.2,760.0 1241.7,765.4 1242.3,769.6 1242.9,768.8 1243.5,758.7 1244.1,761.5 1244.7,765.7 1245.2,768.2 1245.8,768.5 1246.4,763.3 1247.0,772.0 1247.6,770.4 1248.1,762.5 1248.7,765.0 1249.3,768.4 1249.9,763.0 1250.5,769.1 1251.0,769.7 1251.6,767.3 1252.2,771.3 1252.8,776.1 1253.4,766.5 1254.0,770.9 1254.5,767.3 1255.1,775.1 1255.7,774.0 1256.3,769.1 1256.9,766.7 1257.4,772.1 1258.0,768.8 1258.6,764.3 1259.2,765.1 1259.8,768.4 1260.3,777.4 1260.9,773.2 1261.5,774.3 1262.1,772.6 1262.7,774.3 1263.3,774.7 1263.8,764.5 1264.4,771.1 1265.0,771.1 1265.6,770.5 1266.2,770.1 1266.7,758.5 1267.3,768.8 1267.9,762.5 1268.5,759.4 1269.1,764.7 1269.6,764.8 1270.2,764.5 1270.8,755.0 1271.4,760.7 1272.0,754.1 1272.6,760.9 1273.1,752.5 1273.7,748.0 1274.3,756.8 1274.9,750.1 1275.5,748.1 1276.0,753.4 1276.6,755.2 1277.2,760.5 1277.8,756.4 1278.4,766.7 1278.9,765.3 1279.5,771.8 1280.1,768.5 1280.7,763.0 1281.3,771.6 1281.9,766.7 1282.4,768.3 1283.0,758.4 1283.6,763.2 1284.2,773.6 1284.8,772.5 1285.3,761.4 1285.9,769.6 1286.5,769.6 1287.1,773.1 1287.7,763.9 1288.2,761.4 1288.8,769.3 1289.4,765.5 1290.0,765.6 1290.6,764.3 1291.2,772.6 1291.7,764.1 1292.3,771.0 1292.9,769.3 1293.5,763.8 1294.1,769.5 1294.6,769.8 1295.2,764.9 1295.8,760.8 1296.4,762.8 1297.0,754.3 1297.5,756.7 1298.1,758.2 1298.7,743.4 1299.3,739.1 1299.9,748.3 1300.5,737.5 1301.0,743.1 1301.6,747.0 1302.2,745.4 1302.8,750.2 1303.4,743.7 1303.9,749.5 1304.5,755.8 1305.1,753.0 1305.7,747.4 1306.3,748.5 1306.8,747.3 1307.4,744.9 1308.0,740.9 1308.6,746.8 1309.2,739.0 1309.8,748.9 1310.3,751.5 1310.9,754.3 1311.5,751.6 1312.1,760.6 1312.7,761.2 1313.2,756.8 1313.8,761.8 1314.4,759.1 1315.0,766.8 1315.6,771.5 1316.1,770.1 1316.7,762.9 1317.3,763.1 1317.9,766.5 1318.5,766.8 1319.0,770.4 1319.6,766.3 1320.2,772.0 1320.8,765.6 1321.4,771.8 1322.0,762.0 1322.5,765.6 1323.1,767.9 1323.7,771.0 1324.3,769.8 1324.9,762.4 1325.4,762.6 1326.0,767.6 1326.6,767.3 1327.2,766.1 1327.8,767.5 1328.3,762.3 1328.9,769.4 1329.5,771.3 1330.1,763.8 1330.7,763.9 1331.3,772.0 1331.8,771.2 1332.4,763.8 1333.0,764.1 1333.6,759.8 1334.2,768.5 1334.7,767.2 1335.3,766.4 1335.9,775.0 1336.5,765.2 1337.1,765.3 1337.6,766.6 1338.2,764.6 1338.8,771.3 1339.4,764.2 1340.0,765.1 1340.6,773.2 1341.1,761.6 1341.7,758.7 1342.3,763.8 1342.9,760.2 1343.5,759.6 1344.0,762.5 1344.6,764.4 1345.2,754.0 1345.8,758.6 1346.4,749.9 1346.9,761.0 1347.5,751.6 1348.1,756.9 1348.7,759.7 1349.3,755.5 1349.9,748.7 1350.4,735.0 1351.0,747.2 1351.6,732.2 1352.2,731.4 1352.8,718.5 1353.3,711.3 1353.9,710.2 1354.5,684.7 1355.1,675.0 1355.7,667.0 1356.2,660.5 1356.8,630.7 1357.4,636.9 1358.0,618.6 1358.6,616.6 1359.2,622.4 1359.7,612.2 1360.3,619.5 1360.9,628.8 1361.5,631.1 1362.1,645.3 1362.6,656.7 1363.2,671.3 1363.8,681.2 1364.4,691.7 1365.0,701.7 1365.5,717.2 1366.1,716.0 1366.7,729.4 1367.3,740.8 1367.9,733.9 1368.5,736.6 1369.0,750.3 1369.6,747.0 1370.2,749.6 1370.8,757.2 1371.4,757.4 1371.9,754.7 1372.5,757.2 1373.1,753.5 1373.7,758.0 1374.3,760.7 1374.8,763.9 1375.4,764.6 1376.0,769.8 1376.6,763.0 1377.2,767.6 1377.8,765.1 1378.3,760.5 1378.9,766.0 1379.5,766.4 1380.1,767.9 1380.7,767.5 1381.2,766.3 1381.8,762.4 1382.4,765.0 1383.0,767.5 1383.6,769.1 1384.1,769.9 1384.7,768.7 1385.3,769.5 1385.9,772.7 1386.5,768.0 1387.0,765.2 1387.6,761.9 1388.2,767.7 1388.8,770.1 1389.4,766.3 1390.0,773.6 1390.5,764.5 1391.1,766.5 1391.7,767.9 1392.3,763.3 1392.9,772.1 1393.4,765.3 1394.0,763.6 1394.6,761.2 1395.2,771.9 1395.8,773.3 1396.3,764.5 1396.9,762.9 1397.5,766.7 1398.1,768.4 1398.7,766.4 1399.3,770.4 1399.8,764.4 1400.4,776.6 1401.0,770.0 1401.6,772.6 1402.2,767.1 1402.7,772.4 1403.3,775.2 1403.9,766.0 1404.5,769.3 1405.1,772.7 1405.6,770.4 1406.2,765.6 1406.8,767.0 1407.4,771.1 1408.0,770.1 1408.6,766.3 1409.1,770.1 1409.7,760.2 1410.3,769.1 1410.9,772.5 1411.5,772.4 1412.0,767.1 1412.6,769.7 1413.2,769.5 1413.8,768.1 1414.4,765.3 1414.9,762.8 1415.5,765.8 1416.1,763.1 1416.7,759.4 1417.3,772.0 1417.9,761.1 1418.4,763.7 1419.0,763.0 1419.6,757.7 1420.2,764.8 1420.8,755.3 1421.3,767.7 1421.9,753.1 1422.5,753.4 1423.1,753.8 1423.7,751.6 1424.2,749.9 1424.8,752.6 1425.4,752.1 1426.0,755.5 1426.6,740.8 1427.2,751.0 1427.7,750.7 1428.3,748.4 1428.9,746.3 1429.5,764.1 1430.1,761.4 1430.6,751.2 1431.2,766.7 1431.8,764.1 1432.4,764.6 1433.0,768.1 1433.5,763.4 1434.1,766.0 1434.7,770.9 1435.3,763.0 1435.9,762.5 1436.5,761.4 1437.0,771.2 1437.6,764.2 1438.2,767.0 1438.8,766.5 1439.4,770.7 1439.9,769.8 1440.5,765.2 1441.1,773.9 1441.7,770.0 1442.3,769.6 1442.8,766.4 1443.4,766.6 1444.0,766.8 1444.6,767.5 1445.2,768.8 1445.8,768.2 1446.3,764.8 1446.9,764.4 1447.5,766.5 1448.1,767.0 1448.7,765.5 1449.2,758.2 1449.8,750.9 1450.4,754.5 1451.0,752.4 1451.6,750.2 1452.1,750.8 1452.7,746.1 1453.3,749.0 1453.9,739.9 1454.5,758.5 1455.1,752.8 1455.6,752.8 1456.2,757.3 1456.8,754.7 1457.4,752.4 1458.0,757.6 1458.5,752.0 1459.1,745.2 1459.7,746.2 1460.3,739.2 1460.9,732.3 1461.4,729.1 1462.0,722.9 1462.6,710.5 1463.2,717.7 1463.8,723.5 1464.3,718.1 1464.9,729.8 1465.5,723.6 1466.1,742.6 1466.7,741.1 1467.3,747.5 1467.8,757.6 1468.4,763.9 1469.0,763.6 1469.6,762.1 1470.2,760.9 1470.7,764.7 1471.3,774.6 1471.9,770.9 1472.5,760.0 1473.1,762.3 1473.6,759.2 1474.2,766.6 1474.8,762.4 1475.4,756.3 1476.0,760.4 1476.6,757.3 1477.1,752.8 1477.7,753.3 1478.3,755.7 1478.9,747.7 1479.5,745.4 1480.0,738.9 1480.6,742.2 1481.2,749.8 1481.8,747.5 1482.4,744.3 1482.9,747.3 1483.5,757.9 1484.1,754.8 1484.7,755.8 1485.3,764.8 1485.9,760.4 1486.4,760.7 1487.0,766.4 1487.6,760.6 1488.2,764.8 1488.8,763.9 1489.3,767.9 1489.9,766.2 1490.5,775.0 1491.1,770.7 1491.7,768.2 1492.2,770.4 1492.8,767.4 1493.4,769.3 1494.0,770.6 1494.6,770.0 1495.2,773.7 1495.7,770.3 1496.3,765.2 1496.9,768.8 1497.5,763.1 1498.1,775.1 1498.6,759.3 1499.2,765.6 1499.8,767.3 1500.4,760.5 1501.0,761.1 1501.5,765.2 1502.1,753.9 1502.7,760.0 1503.3,752.8 1503.9,748.1 1504.5,754.1 1505.0,745.1 1505.6,739.7 1506.2,733.7 1506.8,733.4 1507.4,731.0 1507.9,740.3 1508.5,735.4 1509.1,734.5 1509.7,739.3 1510.3,747.1 1510.8,744.6 1511.4,749.7 1512.0,749.4 1512.6,749.3 1513.2,770.2 1513.8,762.0 1514.3,771.4 1514.9,767.7 1515.5,767.5 1516.1,762.7 1516.7,767.4 1517.2,768.6 1517.8,764.7 1518.4,771.3 1519.0,773.5 1519.6,770.7 1520.1,769.9 1520.7,762.5 1521.3,780.0 1521.9,772.3 1522.5,764.9 1523.1,765.1 1523.6,767.0 1524.2,765.8 1524.8,769.8 1525.4,771.3 1526.0,770.3 1526.5,768.1 1527.1,768.8 1527.7,765.3 1528.3,770.6 1528.9,770.9 1529.4,766.8 1530.0,763.5 1530.6,770.1 1531.2,763.0 1531.8,766.8 1532.3,771.7 1532.9,774.7 1533.5,768.8 1534.1,771.1 1534.7,774.8 1535.3,765.8 1535.8,768.1 1536.4,768.9 1537.0,777.9 1537.6,765.1 1538.2,765.0 1538.7,773.4 1539.3,774.3 1539.9,765.1 1540.5,769.8 1541.1,773.2 1541.6,768.6 1542.2,762.0 1542.8,770.1 1543.4,772.9 1544.0,764.3 1544.6,774.2 1545.1,767.8 1545.7,761.9 1546.3,773.0 1546.9,762.8 1547.5,774.0 1548.0,770.4 1548.6,775.4 1549.2,761.7 1549.8,768.6 1550.4,773.7 1550.9,772.5 1551.5,770.1 1552.1,768.9 1552.7,769.8 1553.3,771.0 1553.9,773.8 1554.4,759.4 1555.0,762.0 1555.6,763.3 1556.2,766.0 1556.8,766.3 1557.3,762.7 1557.9,763.2 1558.5,765.8 1559.1,766.6 1559.7,757.5 1560.2,758.2 1560.8,757.8 1561.4,765.7 1562.0,749.9 1562.6,750.5 1563.2,745.0 1563.7,737.5 1564.3,736.7 1564.9,724.4 1565.5,713.3 1566.1,705.2 1566.6,694.7 1567.2,678.8 1567.8,667.0 1568.4,666.5 1569.0,652.6 1569.5,658.5 1570.1,657.0 1570.7,661.5 1571.3,670.6 1571.9,679.7 1572.5,702.3 1573.0,713.1 1573.6,718.2 1574.2,723.9 1574.8,733.5 1575.4,742.5 1575.9,752.0 1576.5,748.0 1577.1,746.8 1577.7,757.1 1578.3,756.6 1578.8,756.2 1579.4,753.3 1580.0,764.1 1580.6,768.3 1581.2,758.1 1581.8,757.9 1582.3,762.2 1582.9,763.6 1583.5,767.3 1584.1,765.9 1584.7,759.1 1585.2,767.2 1585.8,767.5 1586.4,764.5 1587.0,768.0 1587.6,761.6 1588.1,765.7 1588.7,761.9 1589.3,767.4 1589.9,770.5 1590.5,759.9 1591.1,767.8 1591.6,770.6 1592.2,768.8 1592.8,774.2 1593.4,767.7 1594.0,776.4 1594.5,768.3 1595.1,763.2 1595.7,767.3 1596.3,765.2 1596.9,772.4 1597.4,774.0 1598.0,774.1 1598.6,770.3 1599.2,766.5 1599.8,764.4 1600.4,761.9 1600.9,769.7 1601.5,760.5 1602.1,763.9 1602.7,765.2 1603.3,765.4 1603.8,757.4 1604.4,757.1 1605.0,756.6 1605.6,763.8 1606.2,754.9 1606.7,754.8 1607.3,760.0 1607.9,760.4 1608.5,763.3 1609.1,754.6 1609.6,757.6 1610.2,745.5 1610.8,754.7 1611.4,755.0 1612.0,754.9 1612.6,748.4 1613.1,756.0 1613.7,756.7 1614.3,750.0 1614.9,750.3 1615.5,748.9 1616.0,759.4 1616.6,751.3 1617.2,746.6 1617.8,746.9 1618.4,752.2 1618.9,752.0 1619.5,765.3 1620.1,754.9 1620.7,752.7 1621.3,750.1 1621.9,756.7 1622.4,754.4 1623.0,751.9 1623.6,767.3 1624.2,751.9 1624.8,766.1 1625.3,770.8 1625.9,756.4 1626.5,749.7 1627.1,747.2 1627.7,730.5 1628.2,723.5 1628.8,716.1 1629.4,704.1 1630.0,722.4 1630.6,726.6 1631.2,738.1 1631.7,750.5 1632.3,743.9 1632.9,751.1 1633.5,752.2 1634.1,750.4 1634.6,744.4 1635.2,740.9 1635.8,735.6 1636.4,727.8 1637.0,722.0 1637.5,721.2 1638.1,723.5 1638.7,725.4 1639.3,720.7 1639.9,737.7 1640.5,745.2 1641.0,741.2 1641.6,742.0 1642.2,749.3 1642.8,757.3 1643.4,757.0 1643.9,767.8 1644.5,761.2 1645.1,767.8 1645.7,767.2 1646.3,775.1 1646.8,768.6 1647.4,769.4 1648.0,764.7 1648.6,767.4 1649.2,763.5 1649.8,781.4 1650.3,769.3 1650.9,758.7 1651.5,769.6 1652.1,771.1 1652.7,771.8 1653.2,763.0 1653.8,774.8 1654.4,770.3 1655.0,769.9 1655.6,777.1 1656.1,771.3 1656.7,767.3 1657.3,767.1 1657.9,773.4 1658.5,770.7 1659.1,771.0 1659.6,765.6 1660.2,771.2 1660.8,768.1 1661.4,767.6 1662.0,775.6 1662.5,771.8 1663.1,769.7 1663.7,774.6 1664.3,778.0 1664.9,765.0 1665.4,774.4 1666.0,771.8 1666.6,770.6 1667.2,776.2 1667.8,773.5 1668.4,769.2 1668.9,775.7 1669.5,770.2 1670.1,770.9 1670.7,766.0 1671.3,771.3 1671.8,773.3 1672.4,769.8 1673.0,771.1 1673.6,775.9 1674.2,770.5 1674.7,768.6 1675.3,777.5 1675.9,768.3 1676.5,761.9 1677.1,766.1 1677.6,760.6 1678.2,766.4 1678.8,766.7 1679.4,769.1 1680.0,770.3 1680.6,770.0 1681.1,771.0 1681.7,775.2 1682.3,783.6 1682.9,775.6 1683.5,773.6 1684.0,768.5 1684.6,771.4 1685.2,767.0 1685.8,770.9 1686.4,766.9 1686.9,775.1 1687.5,779.0 1688.1,774.7 1688.7,781.2 1689.3,766.7 1689.9,774.3 1690.4,770.5 1691.0,771.6 1691.6,766.9 1692.2,770.7 1692.8,770.5 1693.3,768.2 1693.9,775.2 1694.5,773.7 1695.1,775.4 1695.7,768.8 1696.2,768.3 1696.8,766.3 1697.4,773.9 1698.0,774.4 1698.6,770.5 1699.2,767.9 1699.7,770.9 1700.3,772.4 1700.9,772.5 1701.5,769.4 1702.1,774.6 1702.6,775.2 1703.2,766.8 1703.8,771.3 1704.4,770.2 1705.0,764.8 1705.5,767.4 1706.1,770.3 1706.7,773.6 1707.3,765.8 1707.9,766.6 1708.5,766.7 1709.0,765.2 1709.6,760.5 1710.2,768.6 1710.8,763.5 1711.4,765.2 1711.9,765.1 1712.5,759.6 1713.1,756.4 1713.7,755.5 1714.3,756.5 1714.8,754.5 1715.4,756.1 1716.0,751.3 1716.6,755.2 1717.2,754.9 1717.8,759.7 1718.3,760.3 1718.9,766.3 1719.5,764.5 1720.1,763.2 1720.7,761.2 1721.2,762.1 1721.8,763.9 1722.4,761.9 1723.0,763.3 1723.6,759.9 1724.1,764.8 1724.7,759.6 1725.3,761.0 1725.9,760.2 1726.5,771.8 1727.1,761.2 1727.6,763.3 1728.2,752.7 1728.8,757.9 1729.4,751.7 1730.0,753.2 1730.5,743.4 1731.1,734.8 1731.7,736.3 1732.3,725.5 1732.9,710.6 1733.4,705.8 1734.0,690.9 1734.6,686.7 1735.2,672.6 1735.8,663.7 1736.4,649.8 1736.9,656.3 1737.5,647.5 1738.1,656.1 1738.7,661.6 1739.3,673.4 1739.8,678.9 1740.4,696.4 1741.0,708.8 1741.6,711.5 1742.2,730.4 1742.7,729.4 1743.3,737.7 1743.9,742.7 1744.5,754.4 1745.1,751.0 1745.7,748.3 1746.2,759.2 1746.8,760.2 1747.4,765.5 1748.0,760.2 1748.6,760.3 1749.1,760.2 1749.7,760.7 1750.3,766.9 1750.9,766.2 1751.5,765.4 1752.0,763.1 1752.6,754.2 1753.2,764.9 1753.8,761.7 1754.4,749.0 1754.9,752.2 1755.5,750.7 1756.1,753.4 1756.7,745.0 1757.3,746.4 1757.9,746.4 1758.4,743.1 1759.0,738.0 1759.6,739.6 1760.2,747.7 1760.8,755.9 1761.3,758.1 1761.9,754.2 1762.5,764.8 1763.1,760.3 1763.7,763.6 1764.2,770.0 1764.8,766.9 1765.4,764.5 1766.0,763.3 1766.6,766.1 1767.2,766.2 1767.7,763.6 1768.3,760.0 1768.9,763.6 1769.5,763.7 1770.1,754.5 1770.6,760.3 1771.2,754.1 1771.8,754.7 1772.4,759.2 1773.0,750.5 1773.5,755.5 1774.1,763.8 1774.7,764.1 1775.3,757.5 1775.9,756.9 1776.5,767.7 1777.0,765.0 1777.6,766.3 1778.2,760.2 1778.8,767.4 1779.4,761.6 1779.9,767.9 1780.5,775.2 1781.1,772.8 1781.7,773.8 1782.3,767.4 1782.8,767.9 1783.4,763.9 1784.0,772.0 1784.6,760.5 1785.2,755.1 1785.8,756.9 1786.3,760.9 1786.9,752.4 1787.5,753.3 1788.1,745.0 1788.7,747.0 1789.2,743.9 1789.8,745.0 1790.4,749.6 1791.0,754.6 1791.6,762.0 1792.1,758.6 1792.7,754.2 1793.3,756.2 1793.9,756.5 1794.5,763.8 1795.1,761.9 1795.6,766.0 1796.2,763.5 1796.8,774.7 1797.4,768.1 1798.0,772.6 1798.5,769.1 1799.1,779.1 1799.7,765.3 1800.3,772.9 1800.9,776.3 1801.4,771.1 1802.0,775.0 1802.6,771.3 1803.2,775.9 1803.8,771.6 1804.4,778.4 1804.9,766.0 1805.5,774.8 1806.1,770.1 1806.7,770.4 1807.3,774.2 1807.8,769.7 1808.4,769.6 1809.0,774.3 1809.6,767.9 1810.2,771.2 1810.7,776.0 1811.3,769.0 1811.9,776.7 1812.5,768.1 1813.1,773.1 1813.7,772.4 1814.2,766.8 1814.8,775.0 1815.4,766.7 1816.0,777.3 1816.6,777.8 1817.1,769.7 1817.7,772.3 1818.3,771.3 1818.9,766.6 1819.5,768.8 1820.0,771.7 1820.6,771.9 1821.2,776.6 1821.8,770.1 1822.4,769.8 1822.9,774.4 1823.5,774.8 1824.1,770.9 1824.7,772.6 1825.3,769.5 1825.9,771.1 1826.4,763.6 1827.0,764.8 1827.6,774.7 1828.2,768.9 1828.8,767.0 1829.3,773.0 1829.9,778.8 1830.5,774.6 1831.1,772.1 1831.7,770.3 1832.2,777.1 1832.8,776.4 1833.4,770.4 1834.0,767.8 1834.6,769.2 1835.2,770.4 1835.7,767.2 1836.3,765.3 1836.9,764.3 1837.5,760.3 1838.1,764.3 1838.6,765.8 1839.2,758.8 1839.8,759.8 1840.4,766.4 1841.0,758.5 1841.5,762.5 1842.1,755.9 1842.7,751.8 1843.3,760.3 1843.9,760.7 1844.5,758.6 1845.0,757.0 1845.6,762.6 1846.2,755.2 1846.8,753.0 1847.4,757.1 1847.9,760.3 1848.5,757.5 1849.1,760.5 1849.7,762.8 1850.3,753.9 1850.8,757.0 1851.4,757.0 1852.0,761.0 1852.6,752.9 1853.2,763.8 1853.8,755.2 1854.3,762.9 1854.9,760.8 1855.5,761.0 1856.1,765.6 1856.7,759.3 1857.2,767.1 1857.8,764.1 1858.4,760.7 1859.0,770.4 1859.6,762.4 1860.1,769.9 1860.7,766.5 1861.3,767.1 1861.9,774.1 1862.5,770.4 1863.1,768.7 1863.6,773.2 1864.2,767.9 1864.8,776.3 1865.4,768.2 1866.0,772.7 1866.5,768.7 1867.1,773.6 1867.7,767.8 1868.3,770.8 1868.9,773.9 1869.4,766.5 1870.0,770.6 1870.6,772.9 1871.2,769.6 1871.8,770.1 1872.4,774.0 1872.9,774.7 1873.5,774.8 1874.1,768.2 1874.7,769.0 1875.3,771.2 1875.8,773.6 1876.4,768.1 1877.0,766.8 1877.6,772.8 1878.2,769.2 1878.7,778.8 1879.3,776.6 1879.9,764.1 1880.5,773.5 1881.1,773.3 1881.7,773.4 1882.2,770.5 1882.8,765.0 1883.4,770.7 1884.0,768.1 1884.6,776.5 1885.1,771.8 1885.7,774.1 1886.3,765.0 1886.9,768.6 1887.5,767.3 1888.0,764.3 1888.6,765.4 1889.2,760.7 1889.8,766.4 1890.4,761.9 1891.0,765.1 1891.5,765.4 1892.1,762.1 1892.7,759.5 1893.3,764.6 1893.9,763.7 1894.4,757.8 1895.0,762.9 1895.6,747.6 1896.2,757.7 1896.8,758.1 1897.3,755.3 1897.9,748.1 1898.5,754.0 1899.1,757.1 1899.7,754.0 1900.2,747.2 1900.8,752.4 1901.4,759.0 1902.0,757.0 1902.6,758.1 1903.2,752.1 1903.7,755.7 1904.3,753.1 1904.9,753.4 1905.5,750.6 1906.1,755.2 1906.6,760.0 1907.2,757.3 1907.8,750.4 1908.4,760.8 1909.0,755.1 1909.5,762.4 1910.1,758.1 1910.7,768.2 1911.3,762.1 1911.9,767.8 1912.5,759.0 1913.0,764.5 1913.6,766.4 1914.2,761.2 1914.8,764.9 1915.4,765.6 1915.9,768.5 1916.5,768.9 1917.1,762.8 1917.7,773.8 1918.3,772.1 1918.8,767.8 1919.4,773.9 1920.0,769.7 1920.6,768.6 1921.2,766.0 1921.8,761.3 1922.3,772.3 1922.9,775.6 1923.5,773.8 1924.1,772.1 1924.7,778.9 1925.2,766.3 1925.8,774.5 1926.4,779.3 1927.0,771.5 1927.6,779.2 1928.1,771.0 1928.7,770.1 1929.3,765.2 1929.9,774.5 1930.5,775.5 1931.1,774.6 1931.6,773.3 1932.2,775.2 1932.8,771.9 1933.4,766.3 1934.0,773.7 1934.5,774.7 1935.1,782.7 1935.7,771.0 1936.3,773.1 1936.9,766.2 1937.4,766.1 1938.0,768.4 1938.6,778.0 1939.2,773.1 1939.8,772.9 1940.4,770.7 1940.9,773.5 1941.5,775.8 1942.1,774.8 1942.7,772.3 1943.3,773.2 1943.8,774.0 1944.4,775.1 1945.0,773.9 1945.6,771.5 1946.2,767.4 1946.7,772.9 1947.3,772.5 1947.9,772.0 1948.5,770.8 1949.1,768.1 1949.7,776.2 1950.2,769.8 1950.8,771.9 1951.4,770.4 1952.0,767.3 1952.6,774.5 1953.1,766.2 1953.7,771.8 1954.3,770.3 1954.9,771.8 1955.5,768.0 1956.0,775.4 1956.6,776.4 1957.2,774.1 1957.8,769.6 1958.4,766.4 1959.0,778.8 1959.5,763.9 1960.1,769.2 1960.7,772.3 1961.3,772.8 1961.9,766.4 1962.4,772.5 1963.0,765.4 1963.6,773.2 1964.2,771.9 1964.8,770.2 1965.3,774.2 1965.9,771.3 1966.5,761.1 1967.1,772.7 1967.7,770.6 1968.2,773.1 1968.8,768.4 1969.4,772.0 1970.0,767.6 1970.6,770.4 1971.2,771.9 1971.7,766.2 1972.3,765.7 1972.9,767.4 1973.5,770.7 1974.1,768.8 1974.6,767.8 1975.2,769.5 1975.8,768.1 1976.4,762.5 1977.0,771.2 1977.5,770.7 1978.1,769.6 1978.7,758.7 1979.3,769.7 1979.9,760.4 1980.5,764.3 1981.0,763.3 1981.6,770.0 1982.2,767.1 1982.8,763.0 1983.4,764.3 1983.9,760.1 1984.5,758.0 1985.1,764.3 1985.7,764.5 1986.3,761.4 1986.8,767.0 1987.4,767.7 1988.0,758.7 1988.6,761.2 1989.2,761.9 1989.8,752.3 1990.3,764.0 1990.9,763.2 1991.5,760.6 1992.1,758.8 1992.7,757.3 1993.2,764.0 1993.8,756.0 1994.4,759.9 1995.0,757.9 1995.6,763.2 1996.1,763.8 1996.7,758.5 1997.3,758.0 1997.9,753.2 1998.5,753.8 1999.1,759.3 1999.6,759.7 2000.2,758.1 2000.8,753.4 2001.4,754.4 2002.0,746.9 2002.5,757.6 2003.1,748.4 2003.7,750.9 2004.3,754.6 2004.9,762.4 2005.4,754.2 2006.0,761.4 2006.6,766.7 2007.2,762.2 2007.8,762.0 2008.4,755.3 2008.9,759.0 2009.5,754.1 2010.1,763.3 2010.7,763.3 2011.3,767.0 2011.8,762.0 2012.4,763.4 2013.0,759.2 2013.6,764.5 2014.2,767.9 2014.7,765.4 2015.3,767.0 2015.9,764.6 2016.5,766.4 2017.1,765.4 2017.7,762.0 2018.2,768.3 2018.8,768.7 2019.4,767.5 2020.0,766.1 2020.6,763.5 2021.1,769.1 2021.7,765.4 2022.3,766.8 2022.9,770.3 2023.5,772.2 2024.0,766.3 2024.6,767.1 2025.2,771.6 2025.8,768.0 2026.4,775.7 2027.0,773.1 2027.5,769.7 2028.1,765.8 2028.7,773.1 2029.3,770.9 2029.9,764.8 2030.4,767.2 2031.0,770.0 2031.6,773.3 2032.2,763.6 2032.8,770.5 2033.3,771.6 2033.9,779.4 2034.5,772.3 2035.1,772.2 2035.7,771.4 2036.3,772.8 2036.8,773.9 2037.4,770.9 2038.0,773.6 2038.6,778.8 2039.2,771.1 2039.7,774.3 2040.3,779.1 2040.9,769.4 2041.5,772.2 2042.1,770.0 2042.6,775.5 2043.2,776.5 2043.8,774.1 2044.4,772.4 2045.0,766.3 2045.5,773.3 2046.1,776.7 2046.7,774.1 2047.3,778.2 2047.9,780.1 2048.5,771.8 2049.0,784.3 2049.6,777.7 2050.2,772.7 2050.8,764.5 2051.4,769.4 2051.9,775.6 2052.5,766.1 2053.1,777.7 2053.7,769.7 2054.3,773.8 2054.8,770.4 2055.4,771.3 2056.0,773.6 2056.6,768.4 2057.2,776.3 2057.8,770.3 2058.3,775.4 2058.9,769.0 2059.5,780.1 2060.1,778.9 2060.7,768.1 2061.2,767.9 2061.8,770.6 2062.4,773.7 2063.0,774.6 2063.6,774.8 2064.1,775.4 2064.7,772.0 2065.3,767.9 2065.9,768.7 2066.5,770.6 2067.1,769.0 2067.6,780.6 2068.2,770.1 2068.8,776.1 2069.4,774.2 2070.0,768.2 2070.5,766.1 2071.1,769.6 2071.7,767.7 2072.3,769.0 2072.9,776.9 2073.4,767.1 2074.0,766.6 2074.6,769.4 2075.2,775.2 2075.8,769.9 2076.4,772.8 2076.9,763.1 2077.5,767.5 2078.1,763.5 2078.7,769.3 2079.3,756.1 2079.8,756.0 2080.4,749.1 2081.0,745.0 2081.6,749.9 2082.2,746.7 2082.7,739.0 2083.3,746.1 2083.9,742.3 2084.5,744.3 2085.1,754.1 2085.7,752.4 2086.2,756.7 2086.8,761.2 2087.4,759.0 2088.0,758.9 2088.6,767.8 2089.1,770.5 2089.7,759.8 2090.3,763.4 2090.9,764.7 2091.5,765.6 2092.0,774.3 2092.6,764.5 2093.2,769.7 2093.8,772.0 2094.4,773.7 2095.0,771.8 2095.5,773.5 2096.1,767.3 2096.7,772.9 2097.3,769.8 2097.9,772.8 2098.4,777.8 2099.0,774.6 2099.6,773.0 2100.2,778.1 2100.8,780.0 2101.3,775.7 2101.9,771.1 2102.5,779.1 2103.1,774.0 2103.7,770.5 2104.3,775.7 2104.8,771.4 2105.4,771.6 2106.0,769.4 2106.6,770.0 2107.2,775.9 2107.7,764.4 2108.3,775.6 2108.9,776.5 2109.5,776.1 2110.1,773.4 2110.6,769.2 2111.2,773.4 2111.8,775.9 2112.4,778.4 2113.0,774.0 2113.5,766.6 2114.1,770.9 2114.7,769.7 2115.3,775.9 2115.9,774.9 2116.5,774.0 2117.0,772.7 2117.6,767.0 2118.2,772.5 2118.8,777.2 2119.4,769.9 2119.9,770.3 2120.5,768.5 2121.1,771.9 2121.7,774.6 2122.3,766.9 2122.8,774.8 2123.4,769.9 2124.0,781.5 2124.6,772.3 2125.2,774.9 2125.8,767.4 2126.3,777.1 2126.9,774.0 2127.5,772.3 2128.1,779.0 2128.7,773.4 2129.2,772.4 2129.8,779.1 2130.4,772.3 2131.0,776.2 2131.6,771.7 2132.1,770.1 2132.7,779.5 2133.3,775.4 2133.9,777.8 2134.5,777.5 2135.1,774.4 2135.6,775.9 2136.2,772.5 2136.8,772.4 2137.4,775.5 2138.0,766.8 2138.5,773.9 2139.1,770.6 2139.7,775.1 2140.3,770.2 2140.9,778.8 2141.4,776.5 2142.0,771.8 2142.6,776.6 2143.2,767.2 2143.8,769.0 2144.4,776.3 2144.9,780.2 2145.5,774.1 2146.1,777.0 2146.7,775.1 2147.3,780.2 2147.8,772.5 2148.4,768.7 2149.0,771.5 2149.6,774.6 2150.2,776.4 2150.7,772.0 2151.3,778.3 2151.9,772.0 2152.5,775.0 2153.1,770.5 2153.7,772.7 2154.2,772.1 2154.8,778.0 2155.4,779.8 2156.0,766.0 2156.6,772.6 2157.1,774.9 2157.7,770.4 2158.3,773.0 2158.9,773.1 2159.5,776.1 2160.0,770.2 2160.6,775.8 2161.2,772.0 2161.8,772.7 2162.4,769.9 2163.0,771.7 2163.5,772.2 2164.1,780.9 2164.7,775.0 2165.3,778.9 2165.9,771.5 2166.4,767.9 2167.0,774.6 2167.6,766.0 2168.2,767.5 2168.8,773.4 2169.3,767.9 2169.9,766.5 2170.5,780.2 2171.1,766.4 2171.7,769.0 2172.3,765.4 2172.8,771.1 2173.4,774.6 2174.0,780.6 2174.6,776.1 2175.2,773.6 2175.7,771.8 2176.3,776.4 2176.9,772.1 2177.5,774.9 2178.1,767.8 2178.6,775.2 2179.2,773.5 2179.8,772.3 2180.4,767.2 2181.0,769.4 2181.6,779.5 2182.1,775.3 2182.7,770.8 2183.3,778.8 2183.9,767.1 2184.5,774.3 2185.0,770.1 2185.6,776.8 2186.2,777.8"/>
<polyline fill="none" stroke="#ff0000" stroke-width="3" stroke-linejoin="miter" stroke-miterlimit="2" shape-rendering="crispEdges" points="152.0,1530.2 152.6,1527.6 153.2,1524.3 153.7,1531.4 154.3,1530.4 154.9,1523.2 155.5,1526.0 156.1,1522.8 156.6,1522.0 157.2,1534.8 157.8,1526.0 158.4,1530.2 159.0,1528.8 159.6,1527.7 160.1,1523.2 160.7,1523.3 161.3,1529.3 161.9,1532.1 162.5,1519.9 163.0,1523.6 163.6,1526.6 164.2,1531.8 164.8,1529.7 165.4,1530.8 165.9,1528.5 166.5,1523.6 167.1,1526.9 167.7,1532.7 168.3,1528.2 168.9,1522.4 169.4,1533.3 170.0,1529.4 170.6,1530.5 171.2,1535.6 171.8,1525.2 172.3,1524.7 172.9,1517.2 173.5,1528.1 174.1,1530.0 174.7,1527.4 175.2,1527.5 175.8,1531.3 176.4,1529.2 177.0,1529.2 177.6,1527.2 178.2,1527.3 178.7,1531.8 179.3,1527.1 179.9,1523.4 180.5,1525.2 181.1,1527.0 181.6,1528.3 182.2,1529.6 182.8,1528.0 183.4,1526.1 184.0,1520.8 184.5,1530.0 185.1,1523.4 185.7,1526.8 186.3,1532.4 186.9,1528.5 187.5,1524.1 188.0,1530.4 188.6,1526.4 189.2,1525.5 189.8,1532.6 190.4,1530.3 190.9,1540.6 191.5,1523.0 192.1,1527.5 192.7,1529.3 193.3,1532.9 193.8,1526.4 194.4,1534.0 195.0,1528.2 195.6,1524.6 196.2,1526.9 196.8,1527.4 197.3,1527.1 197.9,1525.1 198.5,1526.7 199.1,1531.6 199.7,1531.3 200.2,1535.4 200.8,1524.2 201.4,1523.3 202.0,1536.3 202.6,1529.2 203.1,1529.3 203.7,1524.1 204.3,1529.3 204.9,1527.9 205.5,1527.7 206.1,1532.5 206.6,1524.3 207.2,1528.3 207.8,1520.4 208.4,1529.4 209.0,1527.5 209.5,1535.0 210.1,1522.0 210.7,1534.2 211.3,1524.1 211.9,1520.9 212.4,1528.4 213.0,1528.4 213.6,1523.6 214.2,1522.3 214.8,1517.6 215.4,1526.1 215.9,1528.9 216.5,1519.1 217.1,1528.0 217.7,1534.1 218.3,1520.2 218.8,1529.8 219.4,1529.7 220.0,1524.9 220.6,1528.8 221.2,1522.9 221.7,1529.3 222.3,1534.1 222.9,1526.1 223.5,1524.9 224.1,1519.2 224.6,1535.2 225.2,1535.2 225.8,1525.4 226.4,1527.8 227.0,1527.1 227.6,1533.1 228.1,1521.0 228.7,1530.2 229.3,1518.2 229.9,1530.2 230.5,1524.4 231.0,1532.8 231.6,1529.7 232.2,1524.9 232.8,1524.4 233.4,1522.5 233.9,1534.4 234.5,1531.8 235.1,1525.0 235.7,1522.0 236.3,1529.5 236.9,1527.5 237.4,1525.5 238.0,1527.9 238.6,1530.2 239.2,1527.3 239.8,1530.0 240.3,1527.4 240.9,1528.6 241.5,1525.2 242.1,1530.7 242.7,1528.1 243.2,1526.2 243.8,1528.2 244.4,1526.5 245.0,1526.7 245.6,1529.6 246.2,1531.1 246.7,1520.7 247.3,1526.7 247.9,1527.8 248.5,1522.8 249.1,1529.3 249.6,1526.5 250.2,1525.2 250.8,1520.1 251.4,1521.5 252.0,1527.8 252.5,1534.8 253.1,1525.7 253.7,1518.8 254.3,1532.5 254.9,1528.1 255.5,1532.2 256.0,1524.8 256.6,1530.9 257.2,1528.8 257.8,1522.2 258.4,1525.9 258.9,1527.9 259.5,1523.7 260.1,1532.3 260.7,1525.7 261.3,1530.4 261.8,1526.3 262.4,1530.0 263.0,1529.6 263.6,1519.4 264.2,1526.3 264.8,1530.3 265.3,1525.9 265.9,1533.5 266.5,1532.7 267.1,1524.1 267.7,1528.0 268.2,1529.6 268.8,1524.5 269.4,1534.2 270.0,1530.6 270.6,1527.7 271.1,1524.1 271.7,1523.7 272.3,1524.2 272.9,1530.5 273.5,1523.7 274.1,1530.9 274.6,1536.9 275.2,1521.7 275.8,1524.6 276.4,1527.4 277.0,1528.4 277.5,1523.6 278.1,1526.9 278.7,1527.0 279.3,1530.2 279.9,1523.5 280.4,1526.0 281.0,1526.5 281.6,1528.6 282.2,1526.2 282.8,1521.0 283.4,1521.6 283.9,1532.1 284.5,1525.1 285.1,1527.5 285.7,1527.2 286.3,1528.6 286.8,1532.7 287.4,1527.2 288.0,1530.3 288.6,1529.2 289.2,1532.4 289.7,1522.4 290.3,1525.2 290.9,1530.8 291.5,1525.7 292.1,1525.5 292.7,1525.8 293.2,1522.0 293.8,1523.5 294.4,1527.7 295.0,1523.2 295.6,1521.6 296.1,1529.9 296.7,1534.9 297.3,1526.6 297.9,1522.7 298.5,1530.9 299.0,1528.6 299.6,1520.3 300.2,1522.8 300.8,1520.7 301.4,1518.2 301.9,1532.0 302.5,1532.6 303.1,1517.8 303.7,1528.8 304.3,1525.8 304.9,1527.6 305.4,1529.8 306.0,1529.9 306.6,1526.4 307.2,1524.0 307.8,1528.9 308.3,1533.6 308.9,1521.0 309.5,1523.1 310.1,1525.5 310.7,1522.6 311.2,1524.5 311.8,1529.9 312.4,1527.7 313.0,1525.4 313.6,1526.0 314.2,1522.9 314.7,1529.2 315.3,1523.9 315.9,1521.4 316.5,1523.7 317.1,1525.8 317.6,1532.0 318.2,1525.6 318.8,1524.0 319.4,1534.6 320.0,1525.6 320.5,1531.1 321.1,1527.6 321.7,1528.3 322.3,1524.2 322.9,1527.0 323.5,1523.4 324.0,1520.6 324.6,1526.7 325.2,1524.3 325.8,1525.4 326.4,1529.0 326.9,1515.4 327.5,1525.7 328.1,1517.8 328.7,1517.0 329.3,1523.8 329.8,1521.6 330.4,1513.7 331.0,1522.6 331.6,1523.4 332.2,1527.4 332.8,1526.0 333.3,1520.8 333.9,1513.6 334.5,1518.3 335.1,1519.7 335.7,1519.0 336.2,1517.8 336.8,1510.7 337.4,1506.0 338.0,1491.9 338.6,1475.0 339.1,1449.4 339.7,1413.1 340.3,1354.7 340.9,1358.6 341.5,1401.8 342.1,1449.9 342.6,1476.7 343.2,1505.8 343.8,1505.2 344.4,1507.1 345.0,1513.0 345.5,1514.1 346.1,1517.6 346.7,1520.8 347.3,1526.8 347.9,1527.2 348.4,1524.3 349.0,1518.0 349.6,1524.8 350.2,1519.8 350.8,1522.9 351.4,1523.8 351.9,1523.6 352.5,1532.7 353.1,1524.2 353.7,1522.8 354.3,1523.3 354.8,1528.3 355.4,1517.6 356.0,1522.5 356.6,1519.8 357.2,1523.2 357.7,1517.1 358.3,1523.1 358.9,1528.1 359.5,1521.2 360.1,1528.8 360.7,1521.5 361.2,1523.6 361.8,1519.5 362.4,1526.6 363.0,1521.6 363.6,1525.0 364.1,1528.2 364.7,1522.4 365.3,1531.9 365.9,1525.1 366.5,1521.1 367.0,1523.2 367.6,1524.2 368.2,1519.5 368.8,1520.0 369.4,1531.1 369.9,1526.5 370.5,1528.6 371.1,1534.2 371.7,1527.4 372.3,1521.4 372.9,1528.1 373.4,1521.7 374.0,1529.5 374.6,1527.3 375.2,1529.4 375.8,1521.2 376.3,1517.4 376.9,1526.0 377.5,1527.8 378.1,1524.9 378.7,1523.0 379.2,1523.1 379.8,1522.8 380.4,1526.9 381.0,1518.7 381.6,1523.3 382.2,1526.9 382.7,1524.3 383.3,1522.3 383.9,1522.6 384.5,1526.0 385.1,1527.3 385.6,1518.0 386.2,1533.1 386.8,1525.7 387.4,1524.0 388.0,1519.6 388.5,1521.0 389.1,1527.1 389.7,1525.7 390.3,1516.3 390.9,1520.1 391.5,1523.0 392.0,1519.7 392.6,1531.2 393.2,1528.3 393.8,1521.8 394.4,1517.2 394.9,1524.1 395.5,1522.0 396.1,1521.6 396.7,1518.7 397.3,1526.2 397.8,1523.8 398.4,1528.1 399.0,1526.7 399.6,1521.6 400.2,1523.9 400.8,1520.6 401.3,1523.7 401.9,1519.2 402.5,1525.9 403.1,1514.5 403.7,1524.5 404.2,1522.9 404.8,1526.0 405.4,1519.1 406.0,1523.6 406.6,1525.4 407.1,1522.5 407.7,1523.4 408.3,1522.6 408.9,1521.0 409.5,1520.7 410.1,1516.7 410.6,1523.5 411.2,1522.7 411.8,1528.9 412.4,1519.2 413.0,1528.8 413.5,1527.0 414.1,1513.2 414.7,1522.1 415.3,1527.7 415.9,1522.2 416.4,1525.2 417.0,1526.2 417.6,1519.2 418.2,1523.9 418.8,1521.6 419.4,1527.2 419.9,1512.2 420.5,1520.5 421.1,1517.4 421.7,1521.2 422.3,1523.4 422.8,1522.8 423.4,1521.4 424.0,1525.2 424.6,1518.5 425.2,1525.2 425.7,1521.9 426.3,1516.5 426.9,1522.4 427.5,1522.8 428.1,1521.8 428.7,1516.4 429.2,1521.2 429.8,1529.6 430.4,1528.9 431.0,1517.5 431.6,1520.3 432.1,1518.9 432.7,1515.1 433.3,1514.9 433.9,1520.3 434.5,1525.8 435.0,1524.5 435.6,1525.7 436.2,1538.0 436.8,1517.9 437.4,1519.6 438.0,1514.1 438.5,1519.0 439.1,1521.8 439.7,1524.9 440.3,1515.6 440.9,1517.5 441.4,1519.2 442.0,1519.0 442.6,1513.5 443.2,1522.2 443.8,1518.3 444.3,1518.2 444.9,1517.0 445.5,1519.1 446.1,1517.2 446.7,1519.0 447.2,1524.6 447.8,1519.3 448.4,1521.2 449.0,1519.6 449.6,1513.6 450.2,1511.8 450.7,1521.5 451.3,1516.2 451.9,1518.3 452.5,1516.3 453.1,1513.9 453.6,1524.6 454.2,1530.1 454.8,1524.6 455.4,1513.9 456.0,1517.1 456.5,1520.2 457.1,1514.2 457.7,1517.9 458.3,1519.9 458.9,1526.2 459.5,1512.2 460.0,1519.0 460.6,1513.8 461.2,1509.2 461.8,1521.1 462.4,1510.6 462.9,1516.9 463.5,1521.4 464.1,1518.9 464.7,1517.0 465.3,1522.5 465.8,1516.2 466.4,1515.3 467.0,1515.4 467.6,1518.5 468.2,1514.8 468.8,1513.1 469.3,1515.7 469.9,1522.2 470.5,1515.6 471.1,1518.3 471.7,1523.6 472.2,1523.5 472.8,1512.0 473.4,1522.6 474.0,1507.1 474.6,1519.9 475.1,1511.8 475.7,1514.4 476.3,1515.0 476.9,1514.4 477.5,1517.0 478.1,1515.2 478.6,1524.5 479.2,1515.9 479.8,1512.7 480.4,1517.5 481.0,1513.9 481.5,1516.7 482.1,1514.7 482.7,1516.8 483.3,1518.0 483.9,1520.2 484.4,1522.0 485.0,1519.4 485.6,1516.0 486.2,1514.0 486.8,1511.8 487.4,1522.2 487.9,1514.4 488.5,1514.7 489.1,1516.8 489.7,1519.3 490.3,1522.4 490.8,1518.2 491.4,1510.9 492.0,1518.1 492.6,1514.9 493.2,1513.3 493.7,1519.8 494.3,1515.0 494.9,1515.4 495.5,1518.7 496.1,1517.4 496.7,1517.7 497.2,1516.5 497.8,1513.0 498.4,1513.1 499.0,1514.7 499.6,1515.2 500.1,1519.0 500.7,1509.5 501.3,1515.5 501.9,1505.0 502.5,1519.9 503.0,1518.1 503.6,1512.3 504.2,1512.9 504.8,1514.3 505.4,1511.1 506.0,1519.7 506.5,1518.1 507.1,1510.1 507.7,1514.7 508.3,1510.9 508.9,1520.3 509.4,1508.0 510.0,1512.4 510.6,1515.5 511.2,1514.9 511.8,1517.1 512.3,1516.1 512.9,1512.7 513.5,1517.0 514.1,1508.9 514.7,1512.1 515.2,1518.9 515.8,1520.3 516.4,1520.5 517.0,1510.4 517.6,1525.9 518.2,1514.9 518.7,1523.8 519.3,1516.9 519.9,1509.6 520.5,1516.5 521.1,1513.3 521.6,1515.9 522.2,1511.9 522.8,1515.1 523.4,1515.0 524.0,1510.6 524.5,1516.0 525.1,1511.2 525.7,1511.2 526.3,1508.9 526.9,1515.9 527.5,1512.7 528.0,1506.6 528.6,1509.6 529.2,1514.7 529.8,1513.7 530.4,1514.0 530.9,1510.9 531.5,1513.8 532.1,1513.6 532.7,1516.9 533.3,1513.1 533.8,1520.0 534.4,1512.5 535.0,1515.8 535.6,1520.1 536.2,1508.0 536.8,1512.0 537.3,1518.9 537.9,1512.4 538.5,1511.6 539.1,1520.5 539.7,1519.3 540.2,1520.5 540.8,1511.3 541.4,1516.3 542.0,1511.0 542.6,1520.0 543.1,1508.6 543.7,1508.4 544.3,1506.6 544.9,1512.2 545.5,1517.8 546.1,1512.5 546.6,1517.4 547.2,1514.5 547.8,1514.4 548.4,1514.6 549.0,1513.1 549.5,1510.8 550.1,1515.9 550.7,1515.7 551.3,1517.4 551.9,1513.9 552.4,1516.0 553.0,1511.1 553.6,1515.8 554.2,1508.4 554.8,1507.0 555.4,1516.5 555.9,1512.0 556.5,1514.0 557.1,1513.1 557.7,1513.7 558.3,1504.1 558.8,1511.2 559.4,1513.1 560.0,1512.8 560.6,1513.2 561.2,1510.3 561.7,1512.9 562.3,1514.4 562.9,1511.0 563.5,1505.3 564.1,1514.7 564.7,1514.0 565.2,1511.9 565.8,1512.4 566.4,1508.4 567.0,1514.3 567.6,1514.0 568.1,1515.5 568.7,1512.2 569.3,1505.8 569.9,1507.3 570.5,1511.9 571.0,1520.3 571.6,1511.3 572.2,1515.7 572.8,1512.5 573.4,1514.5 574.0,1513.9 574.5,1508.9 575.1,1513.5 575.7,1518.7 576.3,1507.8 576.9,1512.1 577.4,1514.1 578.0,1513.4 578.6,1514.8 579.2,1508.8 579.8,1521.6 580.3,1516.3 580.9,1516.8 581.5,1518.1 582.1,1511.2 582.7,1516.1 583.3,1511.0 583.8,1512.7 584.4,1516.0 585.0,1517.7 585.6,1513.3 586.2,1511.2 586.7,1512.1 587.3,1519.3 587.9,1513.5 588.5,1504.1 589.1,1517.5 589.6,1516.5 590.2,1508.6 590.8,1507.1 591.4,1510.5 592.0,1515.5 592.5,1510.2 593.1,1505.3 593.7,1516.9 594.3,1521.1 594.9,1509.5 595.5,1513.5 596.0,1511.7 596.6,1512.0 597.2,1509.5 597.8,1512.6 598.4,1516.5 598.9,1514.1 599.5,1503.3 600.1,1506.7 600.7,1510.1 601.3,1514.2 601.8,1515.5 602.4,1519.2 603.0,1517.2 603.6,1504.0 604.2,1509.7 604.8,1515.7 605.3,1515.1 605.9,1508.6 606.5,1514.6 607.1,1514.4 607.7,1510.2 608.2,1508.0 608.8,1515.4 609.4,1506.3 610.0,1509.7 610.6,1515.9 611.1,1508.6 611.7,1501.5 612.3,1507.7 612.9,1502.0 613.5,1502.9 614.1,1500.7 614.6,1500.2 615.2,1491.9 615.8,1457.5 616.4,1414.4 617.0,1365.6 617.5,1351.5 618.1,1378.0 618.7,1418.1 619.3,1462.9 619.9,1482.0 620.4,1492.9 621.0,1495.5 621.6,1495.3 622.2,1493.8 622.8,1494.2 623.4,1461.3 623.9,1429.5 624.5,1392.0 625.1,1329.3 625.7,1290.8 626.3,1277.0 626.8,1320.4 627.4,1380.0 628.0,1426.9 628.6,1462.5 629.2,1488.4 629.7,1489.1 630.3,1496.5 630.9,1506.6 631.5,1503.3 632.1,1506.7 632.7,1510.1 633.2,1510.8 633.8,1506.8 634.4,1502.8 635.0,1493.5 635.6,1497.7 636.1,1496.4 636.7,1495.7 637.3,1485.9 637.9,1502.4 638.5,1508.3 639.0,1509.5 639.6,1504.0 640.2,1507.9 640.8,1506.1 641.4,1517.1 642.0,1520.2 642.5,1512.2 643.1,1507.0 643.7,1510.8 644.3,1517.8 644.9,1514.6 645.4,1519.2 646.0,1509.0 646.6,1517.5 647.2,1512.9 647.8,1516.1 648.3,1519.3 648.9,1516.6 649.5,1523.9 650.1,1515.9 650.7,1516.1 651.3,1509.3 651.8,1517.0 652.4,1509.9 653.0,1518.8 653.6,1513.7 654.2,1523.5 654.7,1515.9 655.3,1514.3 655.9,1512.7 656.5,1520.3 657.1,1524.4 657.6,1517.0 658.2,1519.3 658.8,1524.1 659.4,1524.1 660.0,1517.1 660.5,1512.0 661.1,1509.3 661.7,1522.4 662.3,1513.7 662.9,1521.1 663.5,1522.8 664.0,1520.3 664.6,1526.5 665.2,1522.4 665.8,1514.4 666.4,1515.8 666.9,1515.3 667.5,1508.9 668.1,1520.9 668.7,1517.7 669.3,1520.4 669.8,1514.9 670.4,1515.2 671.0,1513.4 671.6,1518.3 672.2,1513.0 672.8,1519.7 673.3,1523.4 673.9,1520.0 674.5,1515.4 675.1,1518.1 675.7,1515.9 676.2,1517.4 676.8,1523.2 677.4,1516.8 678.0,1512.6 678.6,1512.5 679.1,1522.1 679.7,1517.4 680.3,1519.0 680.9,1513.5 681.5,1515.6 682.1,1511.9 682.6,1521.8 683.2,1514.8 683.8,1524.2 684.4,1516.7 685.0,1521.7 685.5,1517.2 686.1,1514.9 686.7,1516.3 687.3,1518.4 687.9,1515.5 688.4,1521.1 689.0,1520.9 689.6,1514.9 690.2,1525.8 690.8,1519.7 691.4,1510.8 691.9,1523.1 692.5,1521.2 693.1,1514.9 693.7,1515.3 694.3,1521.8 694.8,1522.9 695.4,1511.4 696.0,1518.1 696.6,1514.4 697.2,1524.3 697.7,1513.7 698.3,1514.4 698.9,1519.6 699.5,1524.2 700.1,1519.9 700.7,1521.9 701.2,1518.6 701.8,1517.9 702.4,1521.3 703.0,1518.5 703.6,1520.5 704.1,1515.2 704.7,1520.8 705.3,1521.1 705.9,1521.3 706.5,1519.5 707.0,1513.2 707.6,1518.8 708.2,1516.6 708.8,1519.4 709.4,1520.1 710.0,1518.7 710.5,1524.3 711.1,1524.5 711.7,1518.7 712.3,1519.8 712.9,1510.0 713.4,1521.5 714.0,1517.6 714.6,1525.8 715.2,1530.2 715.8,1516.4 716.3,1518.9 716.9,1516.2 717.5,1516.3 718.1,1523.7 718.7,1519.3 719.3,1518.0 719.8,1520.4 720.4,1524.5 721.0,1524.1 721.6,1511.7 722.2,1523.2 722.7,1518.2 723.3,1523.6 723.9,1519.4 724.5,1521.6 725.1,1507.6 725.6,1523.7 726.2,1513.6 726.8,1522.7 727.4,1515.7 728.0,1516.7 728.6,1523.2 729.1,1507.5 729.7,1516.8 730.3,1517.2 730.9,1518.5 731.5,1524.3 732.0,1531.2 732.6,1520.7 733.2,1526.9 733.8,1514.5 734.4,1519.7 734.9,1515.3 735.5,1509.2 736.1,1518.0 736.7,1516.5 737.3,1525.1 737.8,1528.7 738.4,1521.4 739.0,1525.2 739.6,1520.0 740.2,1520.8 740.8,1525.6 741.3,1513.6 741.9,1531.0 742.5,1520.7 743.1,1512.6 743.7,1521.2 744.2,1518.0 744.8,1517.7 745.4,1517.0 746.0,1519.0 746.6,1517.4 747.1,1518.4 747.7,1517.3 748.3,1511.2 748.9,1522.0 749.5,1522.2 750.1,1517.8 750.6,1515.5 751.2,1514.1 751.8,1524.0 752.4,1517.4 753.0,1524.4 753.5,1522.2 754.1,1520.6 754.7,1517.1 755.3,1515.0 755.9,1509.8 756.4,1517.8 757.0,1512.6 757.6,1515.1 758.2,1514.3 758.8,1503.7 759.4,1516.0 759.9,1503.3 760.5,1498.5 761.1,1484.9 761.7,1486.6 762.3,1477.6 762.8,1470.3 763.4,1470.6 764.0,1475.7 764.6,1483.8 765.2,1476.5 765.7,1493.0 766.3,1510.3 766.9,1510.3 767.5,1509.9 768.1,1505.0 768.7,1517.2 769.2,1515.7 769.8,1514.0 770.4,1528.0 771.0,1520.7 771.6,1520.1 772.1,1525.1 772.7,1516.0 773.3,1517.5 773.9,1520.4 774.5,1524.2 775.0,1523.1 775.6,1513.6 776.2,1520.4 776.8,1522.7 777.4,1513.4 778.0,1519.7 778.5,1522.5 779.1,1522.8 779.7,1514.7 780.3,1516.0 780.9,1522.0 781.4,1518.8 782.0,1520.5 782.6,1525.9 783.2,1529.8 783.8,1531.4 784.3,1519.0 784.9,1518.1 785.5,1519.9 786.1,1527.7 786.7,1515.1 787.3,1511.4 787.8,1519.0 788.4,1520.2 789.0,1518.3 789.6,1520.4 790.2,1526.7 790.7,1524.4 791.3,1519.1 791.9,1512.8 792.5,1523.3 793.1,1520.2 793.6,1526.8 794.2,1524.7 794.8,1520.7 795.4,1513.8 796.0,1522.5 796.6,1523.9 797.1,1517.0 797.7,1528.2 798.3,1519.9 798.9,1515.1 799.5,1512.5 800.0,1528.8 800.6,1517.1 801.2,1525.3 801.8,1515.1 802.4,1528.0 802.9,1529.6 803.5,1516.6 804.1,1516.1 804.7,1524.9 805.3,1520.2 805.8,1521.4 806.4,1515.7 807.0,1521.6 807.6,1517.2 808.2,1526.0 808.8,1515.9 809.3,1518.4 809.9,1527.4 810.5,1520.9 811.1,1518.2 811.7,1521.3 812.2,1520.9 812.8,1524.2 813.4,1525.5 814.0,1524.3 814.6,1521.2 815.1,1508.8 815.7,1529.9 816.3,1524.5 816.9,1522.3 817.5,1521.0 818.1,1522.3 818.6,1521.9 819.2,1522.5 819.8,1521.4 820.4,1520.1 821.0,1520.9 821.5,1516.8 822.1,1515.6 822.7,1516.4 823.3,1511.2 823.9,1502.7 824.4,1503.7 825.0,1493.8 825.6,1477.7 826.2,1470.7 826.8,1460.8 827.4,1449.7 827.9,1452.5 828.5,1442.0 829.1,1461.6 829.7,1468.2 830.3,1478.4 830.8,1498.7 831.4,1514.7 832.0,1504.0 832.6,1511.8 833.2,1519.2 833.7,1501.2 834.3,1519.7 834.9,1523.4 835.5,1510.0 836.1,1524.0 836.7,1525.0 837.2,1522.1 837.8,1527.8 838.4,1520.4 839.0,1522.7 839.6,1525.1 840.1,1523.8 840.7,1526.0 841.3,1520.3 841.9,1520.2 842.5,1518.7 843.0,1524.7 843.6,1527.6 844.2,1532.1 844.8,1531.0 845.4,1517.5 846.0,1525.2 846.5,1532.1 847.1,1519.1 847.7,1527.7 848.3,1519.0 848.9,1524.8 849.4,1527.0 850.0,1530.2 850.6,1525.0 851.2,1522.0 851.8,1516.3 852.3,1517.8 852.9,1528.8 853.5,1524.8 854.1,1523.9 854.7,1526.7 855.3,1527.9 855.8,1534.1 856.4,1524.6 857.0,1528.5 857.6,1525.9 858.2,1524.7 858.7,1519.6 859.3,1525.5 859.9,1519.7 860.5,1519.0 861.1,1528.9 861.6,1519.8 862.2,1517.5 862.8,1520.5 863.4,1522.6 864.0,1519.0 864.6,1527.1 865.1,1525.9 865.7,1526.1 866.3,1527.4 866.9,1520.7 867.5,1527.1 868.0,1522.2 868.6,1520.6 869.2,1518.2 869.8,1522.5 870.4,1519.2 870.9,1526.4 871.5,1525.7 872.1,1518.4 872.7,1517.9 873.3,1525.0 873.9,1520.5 874.4,1522.7 875.0,1524.1 875.6,1524.2 876.2,1522.6 876.8,1521.9 877.3,1521.2 877.9,1519.8 878.5,1519.8 879.1,1517.8 879.7,1519.5 880.2,1524.0 880.8,1520.2 881.4,1510.3 882.0,1510.6 882.6,1507.0 883.1,1492.1 883.7,1486.6 884.3,1484.1 884.9,1467.6 885.5,1462.4 886.1,1440.3 886.6,1442.5 887.2,1438.1 887.8,1442.0 888.4,1460.9 889.0,1478.0 889.5,1486.9 890.1,1495.7 890.7,1509.2 891.3,1505.0 891.9,1511.9 892.4,1513.6 893.0,1521.1 893.6,1514.2 894.2,1521.5 894.8,1517.9 895.4,1511.3 895.9,1522.1 896.5,1518.0 897.1,1522.7 897.7,1525.4 898.3,1529.0 898.8,1520.1 899.4,1518.6 900.0,1532.1 900.6,1528.0 901.2,1523.5 901.7,1528.9 902.3,1531.0 902.9,1528.5 903.5,1522.4 904.1,1528.3 904.7,1525.5 905.2,1524.8 905.8,1527.5 906.4,1526.9 907.0,1525.6 907.6,1527.6 908.1,1529.0 908.7,1520.0 909.3,1521.2 909.9,1530.5 910.5,1530.5 911.0,1526.8 911.6,1519.5 912.2,1529.0 912.8,1525.5 913.4,1527.9 914.0,1525.6 914.5,1518.7 915.1,1530.8 915.7,1524.5 916.3,1527.5 916.9,1517.6 917.4,1524.3 918.0,1530.5 918.6,1523.6 919.2,1524.4 919.8,1524.0 920.3,1523.4 920.9,1513.6 921.5,1505.1 922.1,1509.1 922.7,1492.5 923.3,1486.7 923.8,1491.7 924.4,1477.2 925.0,1477.9 925.6,1492.4 926.2,1482.0 926.7,1491.2 927.3,1502.6 927.9,1510.4 928.5,1505.3 929.1,1510.7 929.6,1521.2 930.2,1518.8 930.8,1522.3 931.4,1522.6 932.0,1522.0 932.6,1520.3 933.1,1520.9 933.7,1515.3 934.3,1519.5 934.9,1513.7 935.5,1497.6 936.0,1488.9 936.6,1485.8 937.2,1482.6 937.8,1480.3 938.4,1491.3 938.9,1504.5 939.5,1515.6 940.1,1513.2 940.7,1520.4 941.3,1519.0 941.9,1523.4 942.4,1522.6 943.0,1530.3 943.6,1523.2 944.2,1524.0 944.8,1522.8 945.3,1527.7 945.9,1532.3 946.5,1526.2 947.1,1524.8 947.7,1531.4 948.2,1526.6 948.8,1535.7 949.4,1525.7 950.0,1528.4 950.6,1527.6 951.1,1525.6 951.7,1527.2 952.3,1526.7 952.9,1526.9 953.5,1528.9 954.1,1530.1 954.6,1525.8 955.2,1528.6 955.8,1530.4 956.4,1535.7 957.0,1531.5 957.5,1518.2 958.1,1532.1 958.7,1528.1 959.3,1527.3 959.9,1523.6 960.4,1519.0 961.0,1531.3 961.6,1529.6 962.2,1531.9 962.8,1526.1 963.4,1528.4 963.9,1526.5 964.5,1526.1 965.1,1540.8 965.7,1526.0 966.3,1530.4 966.8,1529.5 967.4,1523.9 968.0,1526.5 968.6,1530.9 969.2,1526.2 969.7,1529.9 970.3,1530.7 970.9,1529.9 971.5,1529.6 972.1,1529.0 972.7,1527.4 973.2,1523.8 973.8,1530.7 974.4,1532.7 975.0,1528.6 975.6,1528.5 976.1,1529.8 976.7,1527.7 977.3,1521.0 977.9,1524.6 978.5,1523.1 979.0,1530.5 979.6,1534.7 980.2,1528.6 980.8,1535.6 981.4,1528.9 982.0,1529.2 982.5,1527.9 983.1,1524.6 983.7,1529.3 984.3,1530.9 984.9,1527.9 985.4,1537.4 986.0,1525.2 986.6,1528.9 987.2,1525.7 987.8,1527.0 988.3,1525.2 988.9,1523.8 989.5,1526.0 990.1,1527.4 990.7,1526.9 991.3,1527.5 991.8,1529.1 992.4,1520.5 993.0,1532.5 993.6,1527.5 994.2,1519.3 994.7,1524.6 995.3,1524.0 995.9,1532.0 996.5,1531.1 997.1,1526.1 997.6,1522.4 998.2,1522.7 998.8,1517.3 999.4,1520.3 1000.0,1525.1 1000.6,1523.1 1001.1,1513.3 1001.7,1514.4 1002.3,1509.6 1002.9,1506.7 1003.5,1500.1 1004.0,1507.0 1004.6,1503.6 1005.2,1509.9 1005.8,1522.5 1006.4,1517.9 1006.9,1524.3 1007.5,1527.8 1008.1,1522.1 1008.7,1525.7 1009.3,1526.6 1009.9,1532.0 1010.4,1529.6 1011.0,1528.4 1011.6,1532.0 1012.2,1527.2 1012.8,1529.7 1013.3,1538.5 1013.9,1525.9 1014.5,1528.5 1015.1,1531.9 1015.7,1533.0 1016.2,1531.5 1016.8,1533.6 1017.4,1530.1 1018.0,1530.0 1018.6,1529.8 1019.2,1526.5 1019.7,1528.3 1020.3,1525.9 1020.9,1529.6 1021.5,1523.0 1022.1,1525.9 1022.6,1535.4 1023.2,1530.9 1023.8,1528.8 1024.4,1533.1 1025.0,1533.8 1025.5,1525.5 1026.1,1532.4 1026.7,1523.8 1027.3,1526.3 1027.9,1532.7 1028.4,1526.3 1029.0,1526.4 1029.6,1533.0 1030.2,1529.9 1030.8,1523.6 1031.4,1531.4 1031.9,1530.3 1032.5,1533.3 1033.1,1523.8 1033.7,1529.2 1034.3,1526.2 1034.8,1529.7 1035.4,1524.3 1036.0,1525.6 1036.6,1527.2 1037.2,1528.3 1037.7,1525.6 1038.3,1532.6 1038.9,1523.9 1039.5,1525.8 1040.1,1528.3 1040.7,1524.9 1041.2,1523.6 1041.8,1517.5 1042.4,1526.6 1043.0,1514.8 1043.6,1519.8 1044.1,1512.7 1044.7,1506.1 1045.3,1504.8 1045.9,1495.2 1046.5,1483.6 1047.0,1472.7 1047.6,1452.9 1048.2,1438.6 1048.8,1431.1 1049.4,1427.9 1050.0,1423.3 1050.5,1441.0 1051.1,1456.5 1051.7,1468.5 1052.3,1487.3 1052.9,1500.3 1053.4,1510.4 1054.0,1520.2 1054.6,1513.3 1055.2,1520.9 1055.8,1512.6 1056.3,1527.1 1056.9,1522.0 1057.5,1524.1 1058.1,1524.2 1058.7,1526.1 1059.3,1524.0 1059.8,1529.5 1060.4,1521.6 1061.0,1521.1 1061.6,1520.6 1062.2,1528.0 1062.7,1528.5 1063.3,1530.7 1063.9,1535.5 1064.5,1532.3 1065.1,1528.5 1065.6,1524.1 1066.2,1531.2 1066.8,1523.7 1067.4,1529.7 1068.0,1528.6 1068.6,1528.2 1069.1,1529.9 1069.7,1525.9 1070.3,1529.3 1070.9,1530.9 1071.5,1527.1 1072.0,1522.1 1072.6,1524.2 1073.2,1527.0 1073.8,1534.4 1074.4,1532.3 1074.9,1527.4 1075.5,1534.6 1076.1,1525.3 1076.7,1531.4 1077.3,1528.5 1077.9,1525.8 1078.4,1530.3 1079.0,1526.4 1079.6,1531.9 1080.2,1532.7 1080.8,1533.3 1081.3,1526.2 1081.9,1524.6 1082.5,1526.9 1083.1,1524.4 1083.7,1533.1 1084.2,1523.7 1084.8,1518.7 1085.4,1524.7 1086.0,1523.4 1086.6,1527.3 1087.2,1528.5 1087.7,1527.3 1088.3,1526.2 1088.9,1530.7 1089.5,1526.7 1090.1,1531.7 1090.6,1527.1 1091.2,1523.4 1091.8,1531.6 1092.4,1523.4 1093.0,1526.0 1093.5,1534.5 1094.1,1524.3 1094.7,1521.4 1095.3,1520.4 1095.9,1519.1 1096.4,1513.0 1097.0,1504.4 1097.6,1499.2 1098.2,1494.5 1098.8,1482.9 1099.4,1478.2 1099.9,1486.4 1100.5,1483.1 1101.1,1498.7 1101.7,1508.6 1102.3,1512.7 1102.8,1516.0 1103.4,1523.2 1104.0,1526.1 1104.6,1520.1 1105.2,1531.2 1105.7,1527.4 1106.3,1531.3 1106.9,1528.7 1107.5,1527.8 1108.1,1525.2 1108.7,1527.0 1109.2,1527.5 1109.8,1522.7 1110.4,1530.5 1111.0,1524.6 1111.6,1526.1 1112.1,1527.3 1112.7,1523.0 1113.3,1524.1 1113.9,1531.2 1114.5,1528.1 1115.0,1521.4 1115.6,1522.5 1116.2,1525.7 1116.8,1519.5 1117.4,1526.5 1118.0,1526.9 1118.5,1523.0 1119.1,1525.0 1119.7,1521.7 1120.3,1522.4 1120.9,1526.7 1121.4,1522.5 1122.0,1520.8 1122.6,1525.4 1123.2,1527.2 1123.8,1522.2 1124.3,1523.7 1124.9,1527.3 1125.5,1526.9 1126.1,1512.8 1126.7,1522.2 1127.3,1528.4 1127.8,1526.5 1128.4,1521.7 1129.0,1527.1 1129.6,1516.2 1130.2,1522.4 1130.7,1521.3 1131.3,1523.5 1131.9,1513.1 1132.5,1518.3 1133.1,1517.7 1133.6,1522.1 1134.2,1518.3 1134.8,1518.6 1135.4,1516.6 1136.0,1518.1 1136.6,1521.1 1137.1,1515.7 1137.7,1513.6 1138.3,1512.7 1138.9,1516.5 1139.5,1517.3 1140.0,1510.9 1140.6,1512.6 1141.2,1506.1 1141.8,1512.2 1142.4,1510.1 1142.9,1501.4 1143.5,1504.5 1144.1,1505.3 1144.7,1497.4 1145.3,1507.4 1145.9,1500.1 1146.4,1490.8 1147.0,1486.2 1147.6,1491.9 1148.2,1487.3 1148.8,1486.1 1149.3,1480.2 1149.9,1470.1 1150.5,1476.4 1151.1,1471.2 1151.7,1470.7 1152.2,1455.8 1152.8,1449.7 1153.4,1439.8 1154.0,1422.3 1154.6,1405.3 1155.2,1386.2 1155.7,1369.8 1156.3,1340.8 1156.9,1316.6 1157.5,1283.3 1158.1,1242.4 1158.6,1202.1 1159.2,1148.2 1159.8,1107.2 1160.4,1053.5 1161.0,1012.3 1161.5,970.8 1162.1,957.4 1162.7,946.0 1163.3,964.9 1163.9,980.6 1164.5,1020.3 1165.0,1070.9 1165.6,1116.8 1166.2,1172.9 1166.8,1212.1 1167.4,1252.4 1167.9,1294.1 1168.5,1327.6 1169.1,1359.8 1169.7,1372.8 1170.3,1385.4 1170.8,1398.7 1171.4,1427.2 1172.0,1435.1 1172.6,1451.7 1173.2,1460.0 1173.7,1466.6 1174.3,1466.2 1174.9,1473.7 1175.5,1478.6 1176.1,1486.2 1176.7,1486.4 1177.2,1489.6 1177.8,1494.4 1178.4,1495.1 1179.0,1496.6 1179.6,1504.5 1180.1,1500.2 1180.7,1503.1 1181.3,1504.5 1181.9,1513.1 1182.5,1501.8 1183.0,1510.5 1183.6,1511.4 1184.2,1509.6 1184.8,1511.9 1185.4,1512.6 1186.0,1516.8 1186.5,1509.9 1187.1,1514.4 1187.7,1508.0 1188.3,1511.6 1188.9,1521.1 1189.4,1523.3 1190.0,1514.4 1190.6,1512.0 1191.2,1515.0 1191.8,1519.4 1192.3,1527.3 1192.9,1518.1 1193.5,1520.8 1194.1,1523.3 1194.7,1523.3 1195.3,1521.2 1195.8,1522.6 1196.4,1528.8 1197.0,1523.4 1197.6,1523.5 1198.2,1521.8 1198.7,1523.4 1199.3,1522.3 1199.9,1524.4 1200.5,1526.1 1201.1,1529.6 1201.6,1523.1 1202.2,1530.4 1202.8,1528.8 1203.4,1522.5 1204.0,1524.8 1204.6,1519.3 1205.1,1532.8 1205.7,1520.4 1206.3,1526.3 1206.9,1528.9 1207.5,1529.8 1208.0,1529.4 1208.6,1528.1 1209.2,1521.2 1209.8,1527.9 1210.4,1531.5 1210.9,1530.5 1211.5,1531.0 1212.1,1524.1 1212.7,1520.4 1213.3,1523.2 1213.9,1523.2 1214.4,1521.7 1215.0,1526.4 1215.6,1529.6 1216.2,1530.2 1216.8,1529.9 1217.3,1533.1 1217.9,1521.7 1218.5,1531.9 1219.1,1531.8 1219.7,1522.2 1220.2,1530.4 1220.8,1528.6 1221.4,1524.2 1222.0,1530.7 1222.6,1530.0 1223.2,1532.7 1223.7,1527.1 1224.3,1532.0 1224.9,1521.6 1225.5,1533.0 1226.1,1526.9 1226.6,1535.2 1227.2,1532.0 1227.8,1525.6 1228.4,1533.1 1229.0,1528.1 1229.5,1525.2 1230.1,1526.2 1230.7,1529.8 1231.3,1524.0 1231.9,1525.0 1232.5,1526.4 1233.0,1526.7 1233.6,1527.8 1234.2,1527.5 1234.8,1534.1 1235.4,1529.2 1235.9,1520.2 1236.5,1528.4 1237.1,1534.6 1237.7,1532.6 1238.3,1528.8 1238.8,1529.8 1239.4,1522.9 1240.0,1527.0 1240.6,1525.7 1241.2,1526.5 1241.7,1533.3 1242.3,1532.7 1242.9,1525.4 1243.5,1527.3 1244.1,1530.1 1244.7,1529.5 1245.2,1526.4 1245.8,1532.4 1246.4,1532.5 1247.0,1529.6 1247.6,1526.2 1248.1,1529.0 1248.7,1530.8 1249.3,1523.4 1249.9,1531.6 1250.5,1531.0 1251.0,1527.8 1251.6,1533.4 1252.2,1526.8 1252.8,1527.1 1253.4,1526.9 1254.0,1525.8 1254.5,1531.4 1255.1,1531.0 1255.7,1533.3 1256.3,1530.5 1256.9,1523.9 1257.4,1528.2 1258.0,1529.2 1258.6,1521.3 1259.2,1521.2 1259.8,1519.4 1260.3,1522.8 1260.9,1525.7 1261.5,1526.6 1262.1,1520.8 1262.7,1525.1 1263.3,1524.7 1263.8,1522.7 1264.4,1519.4 1265.0,1527.3 1265.6,1522.4 1266.2,1524.8 1266.7,1530.3 1267.3,1531.8 1267.9,1529.6 1268.5,1532.6 1269.1,1530.5 1269.6,1533.2 1270.2,1528.3 1270.8,1524.7 1271.4,1537.2 1272.0,1533.5 1272.6,1539.3 1273.1,1531.6 1273.7,1533.8 1274.3,1531.6 1274.9,1532.5 1275.5,1525.7 1276.0,1531.6 1276.6,1536.1 1277.2,1528.0 1277.8,1533.2 1278.4,1527.4 1278.9,1532.8 1279.5,1529.2 1280.1,1525.5 1280.7,1535.8 1281.3,1528.0 1281.9,1530.3 1282.4,1527.0 1283.0,1537.3 1283.6,1531.2 1284.2,1530.4 1284.8,1530.4 1285.3,1531.7 1285.9,1532.9 1286.5,1530.1 1287.1,1530.5 1287.7,1523.8 1288.2,1531.8 1288.8,1526.0 1289.4,1527.1 1290.0,1526.8 1290.6,1529.8 1291.2,1529.3 1291.7,1521.7 1292.3,1533.8 1292.9,1520.9 1293.5,1525.0 1294.1,1526.6 1294.6,1515.9 1295.2,1524.9 1295.8,1519.6 1296.4,1515.6 1297.0,1519.7 1297.5,1506.8 1298.1,1516.6 1298.7,1518.2 1299.3,1519.1 1299.9,1522.7 1300.5,1522.2 1301.0,1514.8 1301.6,1523.5 1302.2,1520.6 1302.8,1522.2 1303.4,1529.2 1303.9,1530.1 1304.5,1533.0 1305.1,1529.2 1305.7,1534.7 1306.3,1524.6 1306.8,1531.3 1307.4,1530.7 1308.0,1529.5 1308.6,1525.4 1309.2,1527.5 1309.8,1535.1 1310.3,1531.4 1310.9,1535.2 1311.5,1528.7 1312.1,1529.5 1312.7,1531.1 1313.2,1531.6 1313.8,1531.4 1314.4,1534.3 1315.0,1527.3 1315.6,1534.8 1316.1,1531.0 1316.7,1533.0 1317.3,1527.8 1317.9,1531.9 1318.5,1533.7 1319.0,1528.1 1319.6,1536.7 1320.2,1529.4 1320.8,1532.8 1321.4,1529.7 1322.0,1533.1 1322.5,1535.7 1323.1,1526.1 1323.7,1528.9 1324.3,1537.2 1324.9,1531.2 1325.4,1531.5 1326.0,1534.4 1326.6,1535.0 1327.2,1533.0 1327.8,1529.9 1328.3,1535.4 1328.9,1538.5 1329.5,1530.8 1330.1,1531.2 1330.7,1535.3 1331.3,1532.0 1331.8,1530.7 1332.4,1528.4 1333.0,1530.1 1333.6,1533.5 1334.2,1532.8 1334.7,1531.8 1335.3,1533.1 1335.9,1532.3 1336.5,1530.3 1337.1,1535.2 1337.6,1530.4 1338.2,1533.7 1338.8,1528.6 1339.4,1529.7 1340.0,1531.0 1340.6,1530.8 1341.1,1536.5 1341.7,1537.3 1342.3,1527.6 1342.9,1533.0 1343.5,1537.2 1344.0,1529.6 1344.6,1529.9 1345.2,1527.7 1345.8,1539.5 1346.4,1531.3 1346.9,1532.3 1347.5,1528.9 1348.1,1531.0 1348.7,1529.5 1349.3,1531.6 1349.9,1528.7 1350.4,1530.1 1351.0,1532.5 1351.6,1531.9 1352.2,1531.0 1352.8,1534.0 1353.3,1529.3 1353.9,1531.8 1354.5,1536.1 1355.1,1530.7 1355.7,1533.5 1356.2,1534.2 1356.8,1532.7 1357.4,1533.7 1358.0,1532.0 1358.6,1530.1 1359.2,1531.9 1359.7,1531.7 1360.3,1541.4 1360.9,1533.3 1361.5,1528.1 1362.1,1528.2 1362.6,1527.9 1363.2,1527.3 1363.8,1531.1 1364.4,1532.5 1365.0,1528.8 1365.5,1527.8 1366.1,1531.6 1366.7,1539.4 1367.3,1531.7 1367.9,1539.6 1368.5,1532.4 1369.0,1532.6 1369.6,1531.5 1370.2,1530.4 1370.8,1533.3 1371.4,1528.9 1371.9,1527.8 1372.5,1533.1 1373.1,1526.7 1373.7,1526.9 1374.3,1537.8 1374.8,1529.9 1375.4,1525.1 1376.0,1531.7 1376.6,1527.8 1377.2,1531.7 1377.8,1531.6 1378.3,1528.2 1378.9,1527.5 1379.5,1534.9 1380.1,1537.8 1380.7,1530.8 1381.2,1524.4 1381.8,1527.1 1382.4,1535.4 1383.0,1532.7 1383.6,1535.1 1384.1,1537.8 1384.7,1533.5 1385.3,1533.8 1385.9,1531.9 1386.5,1532.8 1387.0,1531.1 1387.6,1534.0 1388.2,1537.2 1388.8,1528.8 1389.4,1534.9 1390.0,1530.9 1390.5,1529.2 1391.1,1533.0 1391.7,1529.5 1392.3,1532.0 1392.9,1534.6 1393.4,1530.2 1394.0,1534.0 1394.6,1527.3 1395.2,1535.0 1395.8,1530.5 1396.3,1539.4 1396.9,1535.5 1397.5,1530.5 1398.1,1533.7 1398.7,1532.7 1399.3,1530.4 1399.8,1535.6 1400.4,1531.2 1401.0,1529.3 1401.6,1530.2 1402.2,1535.4 1402.7,1526.2 1403.3,1525.5 1403.9,1536.3 1404.5,1530.4 1405.1,1532.1 1405.6,1526.6 1406.2,1531.5 1406.8,1528.6 1407.4,1526.6 1408.0,1531.3 1408.6,1525.5 1409.1,1531.2 1409.7,1527.3 1410.3,1529.2 1410.9,1522.6 1411.5,1529.2 1412.0,1526.8 1412.6,1524.1 1413.2,1529.3 1413.8,1521.7 1414.4,1521.5 1414.9,1524.5 1415.5,1524.0 1416.1,1522.4 1416.7,1525.9 1417.3,1527.0 1417.9,1519.7 1418.4,1517.7 1419.0,1527.9 1419.6,1524.5 1420.2,1522.2 1420.8,1526.1 1421.3,1519.9 1421.9,1525.1 1422.5,1527.5 1423.1,1524.4 1423.7,1526.7 1424.2,1522.0 1424.8,1524.9 1425.4,1528.2 1426.0,1525.4 1426.6,1524.3 1427.2,1525.5 1427.7,1526.3 1428.3,1530.2 1428.9,1522.4 1429.5,1513.7 1430.1,1518.9 1430.6,1511.2 1431.2,1509.8 1431.8,1519.1 1432.4,1525.5 1433.0,1520.0 1433.5,1525.0 1434.1,1522.5 1434.7,1532.4 1435.3,1528.4 1435.9,1526.3 1436.5,1529.8 1437.0,1533.3 1437.6,1529.9 1438.2,1528.8 1438.8,1529.5 1439.4,1535.0 1439.9,1530.4 1440.5,1534.0 1441.1,1532.7 1441.7,1534.6 1442.3,1533.9 1442.8,1530.4 1443.4,1534.1 1444.0,1529.0 1444.6,1533.2 1445.2,1535.6 1445.8,1534.2 1446.3,1527.5 1446.9,1532.2 1447.5,1532.5 1448.1,1535.8 1448.7,1531.6 1449.2,1536.2 1449.8,1532.4 1450.4,1536.4 1451.0,1530.1 1451.6,1535.4 1452.1,1525.5 1452.7,1539.2 1453.3,1528.6 1453.9,1532.3 1454.5,1534.1 1455.1,1530.9 1455.6,1528.4 1456.2,1539.0 1456.8,1534.0 1457.4,1531.8 1458.0,1533.5 1458.5,1532.3 1459.1,1530.2 1459.7,1530.4 1460.3,1531.0 1460.9,1530.9 1461.4,1528.6 1462.0,1531.4 1462.6,1531.2 1463.2,1528.9 1463.8,1528.0 1464.3,1529.8 1464.9,1521.8 1465.5,1525.9 1466.1,1524.3 1466.7,1525.8 1467.3,1522.5 1467.8,1528.4 1468.4,1528.1 1469.0,1530.1 1469.6,1540.4 1470.2,1532.0 1470.7,1531.8 1471.3,1532.3 1471.9,1532.0 1472.5,1535.0 1473.1,1533.7 1473.6,1533.4 1474.2,1532.2 1474.8,1536.7 1475.4,1529.1 1476.0,1534.2 1476.6,1538.9 1477.1,1534.7 1477.7,1527.9 1478.3,1534.7 1478.9,1538.9 1479.5,1535.1 1480.0,1531.1 1480.6,1537.3 1481.2,1527.8 1481.8,1535.1 1482.4,1531.4 1482.9,1536.9 1483.5,1533.8 1484.1,1526.2 1484.7,1535.3 1485.3,1535.5 1485.9,1535.7 1486.4,1528.0 1487.0,1536.6 1487.6,1533.6 1488.2,1528.6 1488.8,1533.4 1489.3,1534.1 1489.9,1534.8 1490.5,1532.3 1491.1,1535.0 1491.7,1532.4 1492.2,1533.9 1492.8,1537.8 1493.4,1537.6 1494.0,1529.8 1494.6,1529.1 1495.2,1535.1 1495.7,1532.5 1496.3,1532.3 1496.9,1533.4 1497.5,1532.8 1498.1,1536.9 1498.6,1530.1 1499.2,1537.1 1499.8,1532.8 1500.4,1531.6 1501.0,1532.7 1501.5,1533.7 1502.1,1526.2 1502.7,1531.5 1503.3,1536.7 1503.9,1537.0 1504.5,1534.4 1505.0,1533.5 1505.6,1529.0 1506.2,1530.0 1506.8,1535.0 1507.4,1535.3 1507.9,1533.6 1508.5,1532.3 1509.1,1528.2 1509.7,1530.0 1510.3,1535.8 1510.8,1531.8 1511.4,1536.3 1512.0,1531.5 1512.6,1535.9 1513.2,1532.8 1513.8,1532.3 1514.3,1531.8 1514.9,1536.5 1515.5,1526.9 1516.1,1530.9 1516.7,1532.2 1517.2,1529.9 1517.8,1524.9 1518.4,1534.8 1519.0,1528.8 1519.6,1530.0 1520.1,1528.4 1520.7,1533.0 1521.3,1529.4 1521.9,1530.3 1522.5,1528.9 1523.1,1536.3 1523.6,1532.1 1524.2,1537.1 1524.8,1535.5 1525.4,1534.8 1526.0,1534.2 1526.5,1537.5 1527.1,1532.0 1527.7,1533.7 1528.3,1527.7 1528.9,1526.8 1529.4,1527.4 1530.0,1523.4 1530.6,1526.2 1531.2,1523.9 1531.8,1519.8 1532.3,1515.1 1532.9,1516.7 1533.5,1512.9 1534.1,1507.0 1534.7,1520.3 1535.3,1519.3 1535.8,1518.3 1536.4,1523.9 1537.0,1526.2 1537.6,1524.2 1538.2,1526.6 1538.7,1535.8 1539.3,1532.3 1539.9,1532.2 1540.5,1531.3 1541.1,1526.3 1541.6,1536.4 1542.2,1532.6 1542.8,1532.0 1543.4,1535.1 1544.0,1538.7 1544.6,1538.2 1545.1,1533.5 1545.7,1528.4 1546.3,1528.3 1546.9,1531.2 1547.5,1524.3 1548.0,1531.4 1548.6,1533.9 1549.2,1536.9 1549.8,1533.0 1550.4,1528.0 1550.9,1535.2 1551.5,1526.2 1552.1,1531.7 1552.7,1531.7 1553.3,1527.2 1553.9,1524.6 1554.4,1533.4 1555.0,1529.2 1555.6,1529.2 1556.2,1526.4 1556.8,1529.8 1557.3,1529.5 1557.9,1527.9 1558.5,1523.3 1559.1,1520.5 1559.7,1525.0 1560.2,1529.9 1560.8,1527.2 1561.4,1528.7 1562.0,1524.0 1562.6,1531.9 1563.2,1531.8 1563.7,1534.2 1564.3,1534.4 1564.9,1530.5 1565.5,1530.3 1566.1,1526.7 1566.6,1536.4 1567.2,1530.8 1567.8,1532.5 1568.4,1531.0 1569.0,1530.7 1569.5,1525.1 1570.1,1521.6 1570.7,1525.1 1571.3,1520.8 1571.9,1524.3 1572.5,1523.0 1573.0,1521.4 1573.6,1521.7 1574.2,1517.2 1574.8,1527.3 1575.4,1527.2 1575.9,1528.8 1576.5,1525.8 1577.1,1531.4 1577.7,1528.1 1578.3,1532.6 1578.8,1533.0 1579.4,1532.2 1580.0,1529.1 1580.6,1529.4 1581.2,1533.9 1581.8,1534.2 1582.3,1532.9 1582.9,1528.5 1583.5,1531.8 1584.1,1531.8 1584.7,1532.7 1585.2,1534.3 1585.8,1536.6 1586.4,1534.6 1587.0,1534.4 1587.6,1529.9 1588.1,1532.4 1588.7,1531.2 1589.3,1534.7 1589.9,1531.4 1590.5,1536.3 1591.1,1533.4 1591.6,1532.0 1592.2,1534.2 1592.8,1533.5 1593.4,1536.1 1594.0,1530.3 1594.5,1528.4 1595.1,1529.6 1595.7,1536.0 1596.3,1534.3 1596.9,1530.8 1597.4,1534.9 1598.0,1532.7 1598.6,1536.4 1599.2,1528.2 1599.8,1533.9 1600.4,1527.3 1600.9,1542.2 1601.5,1528.0 1602.1,1533.4 1602.7,1532.8 1603.3,1531.2 1603.8,1532.0 1604.4,1530.1 1605.0,1536.6 1605.6,1532.3 1606.2,1537.9 1606.7,1533.6 1607.3,1529.5 1607.9,1530.7 1608.5,1531.4 1609.1,1532.4 1609.6,1528.2 1610.2,1529.1 1610.8,1529.9 1611.4,1533.8 1612.0,1535.7 1612.6,1528.4 1613.1,1532.6 1613.7,1528.7 1614.3,1531.5 1614.9,1526.7 1615.5,1530.9 1616.0,1523.5 1616.6,1526.8 1617.2,1526.9 1617.8,1524.5 1618.4,1525.2 1618.9,1513.9 1619.5,1517.6 1620.1,1503.9 1620.7,1505.4 1621.3,1494.0 1621.9,1488.3 1622.4,1489.0 1623.0,1482.7 1623.6,1481.2 1624.2,1484.4 1624.8,1484.5 1625.3,1495.3 1625.9,1501.0 1626.5,1512.3 1627.1,1514.7 1627.7,1516.2 1628.2,1520.2 1628.8,1524.1 1629.4,1522.0 1630.0,1525.6 1630.6,1527.6 1631.2,1526.6 1631.7,1529.3 1632.3,1533.7 1632.9,1530.6 1633.5,1530.4 1634.1,1528.5 1634.6,1532.0 1635.2,1532.5 1635.8,1532.1 1636.4,1536.8 1637.0,1534.9 1637.5,1537.1 1638.1,1535.4 1638.7,1529.4 1639.3,1536.8 1639.9,1526.9 1640.5,1534.7 1641.0,1531.5 1641.6,1529.3 1642.2,1530.6 1642.8,1531.2 1643.4,1543.2 1643.9,1534.1 1644.5,1532.7 1645.1,1533.8 1645.7,1533.4 1646.3,1536.8 1646.8,1532.9 1647.4,1536.8 1648.0,1531.2 1648.6,1534.4 1649.2,1534.7 1649.8,1533.2 1650.3,1532.1 1650.9,1534.6 1651.5,1535.8 1652.1,1538.8 1652.7,1533.3 1653.2,1539.7 1653.8,1539.7 1654.4,1536.4 1655.0,1535.0 1655.6,1530.5 1656.1,1532.7 1656.7,1532.4 1657.3,1532.7 1657.9,1535.4 1658.5,1533.5 1659.1,1534.2 1659.6,1533.1 1660.2,1538.3 1660.8,1541.1 1661.4,1537.1 1662.0,1533.8 1662.5,1536.2 1663.1,1531.5 1663.7,1533.8 1664.3,1535.9 1664.9,1528.7 1665.4,1532.5 1666.0,1529.9 1666.6,1537.8 1667.2,1537.4 1667.8,1530.7 1668.4,1531.1 1668.9,1533.5 1669.5,1538.3 1670.1,1539.5 1670.7,1531.7 1671.3,1534.5 1671.8,1532.6 1672.4,1534.2 1673.0,1532.7 1673.6,1536.8 1674.2,1532.7 1674.7,1532.7 1675.3,1534.7 1675.9,1536.5 1676.5,1529.4 1677.1,1532.7 1677.6,1532.9 1678.2,1532.1 1678.8,1534.9 1679.4,1535.0 1680.0,1535.8 1680.6,1534.8 1681.1,1534.2 1681.7,1535.3 1682.3,1536.8 1682.9,1530.3 1683.5,1537.6 1684.0,1535.1 1684.6,1531.2 1685.2,1531.5 1685.8,1530.3 1686.4,1535.0 1686.9,1538.9 1687.5,1531.4 1688.1,1527.7 1688.7,1533.9 1689.3,1543.4 1689.9,1528.6 1690.4,1535.2 1691.0,1532.4 1691.6,1533.9 1692.2,1532.1 1692.8,1537.4 1693.3,1530.9 1693.9,1531.6 1694.5,1534.4 1695.1,1533.3 1695.7,1532.2 1696.2,1534.4 1696.8,1531.0 1697.4,1534.1 1698.0,1532.1 1698.6,1535.3 1699.2,1528.7 1699.7,1530.5 1700.3,1534.8 1700.9,1531.2 1701.5,1527.2 1702.1,1527.2 1702.6,1526.2 1703.2,1534.9 1703.8,1524.4 1704.4,1528.1 1705.0,1520.3 1705.5,1521.8 1706.1,1526.6 1706.7,1523.6 1707.3,1518.0 1707.9,1520.6 1708.5,1517.5 1709.0,1524.7 1709.6,1519.0 1710.2,1519.5 1710.8,1524.4 1711.4,1524.1 1711.9,1526.1 1712.5,1526.2 1713.1,1530.3 1713.7,1528.8 1714.3,1532.1 1714.8,1533.1 1715.4,1522.5 1716.0,1524.3 1716.6,1528.2 1717.2,1531.0 1717.8,1530.7 1718.3,1529.9 1718.9,1532.6 1719.5,1529.5 1720.1,1530.5 1720.7,1533.4 1721.2,1534.3 1721.8,1533.8 1722.4,1533.4 1723.0,1529.1 1723.6,1529.4 1724.1,1533.2 1724.7,1530.9 1725.3,1524.7 1725.9,1532.9 1726.5,1535.1 1727.1,1533.0 1727.6,1528.4 1728.2,1533.5 1728.8,1525.6 1729.4,1531.3 1730.0,1526.8 1730.5,1524.0 1731.1,1521.7 1731.7,1528.1 1732.3,1520.9 1732.9,1524.0 1733.4,1519.3 1734.0,1516.3 1734.6,1519.0 1735.2,1513.0 1735.8,1522.4 1736.4,1514.7 1736.9,1511.3 1737.5,1506.4 1738.1,1510.3 1738.7,1511.7 1739.3,1507.3 1739.8,1503.0 1740.4,1504.4 1741.0,1505.0 1741.6,1502.0 1742.2,1504.0 1742.7,1503.9 1743.3,1503.2 1743.9,1504.8 1744.5,1502.7 1745.1,1505.5 1745.7,1507.3 1746.2,1514.3 1746.8,1505.7 1747.4,1513.2 1748.0,1508.7 1748.6,1511.3 1749.1,1504.7 1749.7,1504.4 1750.3,1505.6 1750.9,1497.7 1751.5,1501.9 1752.0,1498.3 1752.6,1495.9 1753.2,1489.5 1753.8,1495.5 1754.4,1492.5 1754.9,1487.0 1755.5,1493.7 1756.1,1495.7 1756.7,1493.2 1757.3,1500.8 1757.9,1498.5 1758.4,1507.2 1759.0,1511.0 1759.6,1512.9 1760.2,1516.9 1760.8,1511.5 1761.3,1519.2 1761.9,1516.8 1762.5,1521.7 1763.1,1522.7 1763.7,1523.1 1764.2,1528.3 1764.8,1530.3 1765.4,1530.6 1766.0,1527.9 1766.6,1535.0 1767.2,1535.5 1767.7,1534.3 1768.3,1526.6 1768.9,1533.5 1769.5,1532.5 1770.1,1532.2 1770.6,1533.2 1771.2,1526.2 1771.8,1528.5 1772.4,1537.0 1773.0,1529.0 1773.5,1534.7 1774.1,1530.8 1774.7,1528.3 1775.3,1535.5 1775.9,1530.4 1776.5,1528.9 1777.0,1530.5 1777.6,1527.5 1778.2,1533.9 1778.8,1529.9 1779.4,1532.4 1779.9,1531.1 1780.5,1532.9 1781.1,1530.0 1781.7,1532.2 1782.3,1533.4 1782.8,1527.9 1783.4,1533.9 1784.0,1523.8 1784.6,1536.6 1785.2,1530.7 1785.8,1522.1 1786.3,1532.3 1786.9,1536.0 1787.5,1527.0 1788.1,1534.7 1788.7,1526.5 1789.2,1533.5 1789.8,1532.5 1790.4,1529.7 1791.0,1525.9 1791.6,1524.3 1792.1,1531.4 1792.7,1531.1 1793.3,1528.2 1793.9,1535.1 1794.5,1530.7 1795.1,1526.0 1795.6,1529.9 1796.2,1530.5 1796.8,1527.5 1797.4,1536.1 1798.0,1536.4 1798.5,1531.2 1799.1,1524.6 1799.7,1530.8 1800.3,1532.6 1800.9,1532.5 1801.4,1528.9 1802.0,1530.7 1802.6,1534.1 1803.2,1532.5 1803.8,1525.2 1804.4,1531.6 1804.9,1529.2 1805.5,1537.4 1806.1,1532.2 1806.7,1538.4 1807.3,1535.0 1807.8,1535.7 1808.4,1533.6 1809.0,1534.6 1809.6,1539.3 1810.2,1531.7 1810.7,1536.2 1811.3,1534.5 1811.9,1536.4 1812.5,1531.2 1813.1,1534.2 1813.7,1535.9 1814.2,1539.6 1814.8,1530.6 1815.4,1536.7 1816.0,1533.6 1816.6,1533.4 1817.1,1535.5 1817.7,1532.8 1818.3,1536.6 1818.9,1535.0 1819.5,1541.6 1820.0,1532.4 1820.6,1539.4 1821.2,1536.9 1821.8,1526.8 1822.4,1536.3 1822.9,1530.0 1823.5,1534.4 1824.1,1537.3 1824.7,1535.3 1825.3,1534.6 1825.9,1532.6 1826.4,1538.1 1827.0,1528.3 1827.6,1535.1 1828.2,1539.2 1828.8,1536.4 1829.3,1533.7 1829.9,1533.4 1830.5,1537.4 1831.1,1538.4 1831.7,1534.4 1832.2,1539.4 1832.8,1533.0 1833.4,1534.8 1834.0,1534.5 1834.6,1540.2 1835.2,1538.6 1835.7,1535.9 1836.3,1537.4 1836.9,1532.8 1837.5,1530.0 1838.1,1537.2 1838.6,1541.5 1839.2,1534.2 1839.8,1532.6 1840.4,1539.6 1841.0,1538.5 1841.5,1537.8 1842.1,1533.1 1842.7,1539.1 1843.3,1538.4 1843.9,1538.6 1844.5,1536.7 1845.0,1533.7 1845.6,1538.5 1846.2,1533.8 1846.8,1535.6 1847.4,1534.9 1847.9,1534.3 1848.5,1534.5 1849.1,1541.2 1849.7,1534.9 1850.3,1536.8 1850.8,1534.7 1851.4,1536.7 1852.0,1539.8 1852.6,1538.0 1853.2,1536.2 1853.8,1534.9 1854.3,1534.9 1854.9,1534.1 1855.5,1534.8 1856.1,1528.8 1856.7,1531.3 1857.2,1537.5 1857.8,1533.0 1858.4,1532.9 1859.0,1534.7 1859.6,1535.1 1860.1,1528.4 1860.7,1532.5 1861.3,1534.0 1861.9,1532.1 1862.5,1534.9 1863.1,1534.6 1863.6,1531.6 1864.2,1535.8 1864.8,1535.6 1865.4,1530.2 1866.0,1534.1 1866.5,1535.9 1867.1,1541.1 1867.7,1533.9 1868.3,1530.9 1868.9,1537.8 1869.4,1534.2 1870.0,1536.2 1870.6,1533.5 1871.2,1535.7 1871.8,1536.3 1872.4,1536.6 1872.9,1530.4 1873.5,1534.1 1874.1,1537.5 1874.7,1536.5 1875.3,1537.2 1875.8,1538.4 1876.4,1538.4 1877.0,1534.4 1877.6,1528.2 1878.2,1534.4 1878.7,1529.8 1879.3,1538.6 1879.9,1529.0 1880.5,1532.9 1881.1,1532.8 1881.7,1534.6 1882.2,1525.7 1882.8,1534.4 1883.4,1526.4 1884.0,1531.0 1884.6,1535.9 1885.1,1533.4 1885.7,1528.8 1886.3,1534.0 1886.9,1529.2 1887.5,1531.0 1888.0,1533.8 1888.6,1531.1 1889.2,1530.5 1889.8,1532.6 1890.4,1532.0 1891.0,1533.3 1891.5,1533.7 1892.1,1537.3 1892.7,1530.7 1893.3,1536.8 1893.9,1531.2 1894.4,1531.9 1895.0,1541.1 1895.6,1531.1 1896.2,1535.4 1896.8,1536.3 1897.3,1531.0 1897.9,1532.1 1898.5,1532.2 1899.1,1533.8 1899.7,1529.8 1900.2,1528.3 1900.8,1534.8 1901.4,1530.9 1902.0,1534.5 1902.6,1533.5 1903.2,1532.9 1903.7,1532.2 1904.3,1530.6 1904.9,1539.3 1905.5,1532.3 1906.1,1530.9 1906.6,1533.9 1907.2,1532.4 1907.8,1533.9 1908.4,1533.5 1909.0,1531.3 1909.5,1536.3 1910.1,1529.3 1910.7,1529.8 1911.3,1525.6 1911.9,1526.2 1912.5,1533.7 1913.0,1528.7 1913.6,1534.6 1914.2,1530.9 1914.8,1524.3 1915.4,1533.9 1915.9,1528.0 1916.5,1529.4 1917.1,1525.2 1917.7,1527.5 1918.3,1526.2 1918.8,1531.2 1919.4,1533.0 1920.0,1532.4 1920.6,1534.1 1921.2,1534.1 1921.8,1535.8 1922.3,1534.7 1922.9,1535.0 1923.5,1531.5 1924.1,1532.5 1924.7,1527.9 1925.2,1531.4 1925.8,1530.8 1926.4,1536.7 1927.0,1535.1 1927.6,1534.3 1928.1,1529.1 1928.7,1538.6 1929.3,1537.1 1929.9,1534.8 1930.5,1535.5 1931.1,1539.2 1931.6,1534.2 1932.2,1533.9 1932.8,1535.2 1933.4,1535.6 1934.0,1533.4 1934.5,1536.5 1935.1,1544.1 1935.7,1530.5 1936.3,1534.2 1936.9,1535.4 1937.4,1535.4 1938.0,1535.7 1938.6,1536.7 1939.2,1532.2 1939.8,1534.6 1940.4,1535.3 1940.9,1532.0 1941.5,1536.4 1942.1,1535.2 1942.7,1539.0 1943.3,1532.6 1943.8,1532.9 1944.4,1531.6 1945.0,1539.7 1945.6,1532.7 1946.2,1533.6 1946.7,1535.4 1947.3,1539.1 1947.9,1534.9 1948.5,1530.7 1949.1,1530.6 1949.7,1537.8 1950.2,1537.8 1950.8,1534.4 1951.4,1533.1 1952.0,1538.9 1952.6,1536.8 1953.1,1536.5 1953.7,1534.3 1954.3,1531.4 1954.9,1538.6 1955.5,1538.7 1956.0,1530.0 1956.6,1536.8 1957.2,1534.7 1957.8,1533.0 1958.4,1536.3 1959.0,1536.2 1959.5,1533.6 1960.1,1532.3 1960.7,1534.9 1961.3,1531.7 1961.9,1538.1 1962.4,1536.4 1963.0,1536.1 1963.6,1537.5 1964.2,1541.6 1964.8,1539.2 1965.3,1538.6 1965.9,1537.2 1966.5,1530.5 1967.1,1535.0 1967.7,1536.3 1968.2,1540.6 1968.8,1536.6 1969.4,1537.2 1970.0,1538.2 1970.6,1532.3 1971.2,1532.8 1971.7,1539.4 1972.3,1535.3 1972.9,1535.2 1973.5,1533.3 1974.1,1537.1 1974.6,1531.2 1975.2,1534.4 1975.8,1534.7 1976.4,1539.7 1977.0,1533.6 1977.5,1529.0 1978.1,1536.2 1978.7,1532.8 1979.3,1534.8 1979.9,1538.6 1980.5,1531.9 1981.0,1537.6 1981.6,1539.9 1982.2,1536.5 1982.8,1535.2 1983.4,1538.6 1983.9,1534.7 1984.5,1533.9 1985.1,1536.0 1985.7,1537.6 1986.3,1538.3 1986.8,1537.3 1987.4,1533.7 1988.0,1531.3 1988.6,1537.1 1989.2,1535.6 1989.8,1534.8 1990.3,1534.4 1990.9,1532.7 1991.5,1538.8 1992.1,1529.8 1992.7,1542.6 1993.2,1533.0 1993.8,1534.3 1994.4,1534.1 1995.0,1531.9 1995.6,1531.8 1996.1,1532.0 1996.7,1540.6 1997.3,1537.3 1997.9,1534.8 1998.5,1538.0 1999.1,1533.7 1999.6,1535.4 2000.2,1533.0 2000.8,1532.8 2001.4,1538.0 2002.0,1530.5 2002.5,1532.0 2003.1,1531.3 2003.7,1529.7 2004.3,1534.0 2004.9,1530.6 2005.4,1536.1 2006.0,1533.5 2006.6,1539.3 2007.2,1536.3 2007.8,1534.2 2008.4,1534.6 2008.9,1528.9 2009.5,1535.0 2010.1,1530.2 2010.7,1530.1 2011.3,1531.7 2011.8,1528.4 2012.4,1534.5 2013.0,1535.9 2013.6,1526.8 2014.2,1532.6 2014.7,1529.4 2015.3,1532.0 2015.9,1531.9 2016.5,1534.4 2017.1,1531.7 2017.7,1528.3 2018.2,1528.7 2018.8,1530.2 2019.4,1533.5 2020.0,1533.0 2020.6,1530.1 2021.1,1531.6 2021.7,1530.1 2022.3,1528.8 2022.9,1528.6 2023.5,1534.8 2024.0,1526.0 2024.6,1532.0 2025.2,1536.1 2025.8,1527.7 2026.4,1532.5 2027.0,1539.2 2027.5,1536.2 2028.1,1534.1 2028.7,1533.2 2029.3,1532.0 2029.9,1535.0 2030.4,1538.3 2031.0,1531.8 2031.6,1533.9 2032.2,1529.8 2032.8,1530.4 2033.3,1541.6 2033.9,1531.7 2034.5,1534.8 2035.1,1532.8 2035.7,1533.9 2036.3,1536.3 2036.8,1532.2 2037.4,1529.6 2038.0,1530.3 2038.6,1528.0 2039.2,1534.0 2039.7,1533.9 2040.3,1530.3 2040.9,1529.0 2041.5,1532.8 2042.1,1528.1 2042.6,1526.2 2043.2,1529.5 2043.8,1530.7 2044.4,1530.1 2045.0,1533.5 2045.5,1531.6 2046.1,1528.8 2046.7,1531.4 2047.3,1528.6 2047.9,1531.8 2048.5,1529.8 2049.0,1534.6 2049.6,1534.8 2050.2,1532.9 2050.8,1537.2 2051.4,1535.2 2051.9,1532.6 2052.5,1537.3 2053.1,1535.5 2053.7,1537.6 2054.3,1537.6 2054.8,1541.4 2055.4,1535.3 2056.0,1538.7 2056.6,1532.6 2057.2,1533.5 2057.8,1536.6 2058.3,1533.2 2058.9,1537.2 2059.5,1532.3 2060.1,1530.9 2060.7,1536.2 2061.2,1536.8 2061.8,1541.5 2062.4,1535.2 2063.0,1534.5 2063.6,1536.6 2064.1,1536.9 2064.7,1537.5 2065.3,1531.7 2065.9,1533.5 2066.5,1533.5 2067.1,1534.3 2067.6,1537.7 2068.2,1540.6 2068.8,1537.9 2069.4,1536.6 2070.0,1536.6 2070.5,1533.1 2071.1,1533.0 2071.7,1536.1 2072.3,1534.7 2072.9,1534.1 2073.4,1532.1 2074.0,1537.8 2074.6,1533.2 2075.2,1537.3 2075.8,1539.2 2076.4,1540.9 2076.9,1531.4 2077.5,1534.1 2078.1,1538.6 2078.7,1533.9 2079.3,1532.1 2079.8,1537.2 2080.4,1535.8 2081.0,1534.4 2081.6,1531.2 2082.2,1529.0 2082.7,1536.3 2083.3,1532.1 2083.9,1536.6 2084.5,1531.2 2085.1,1535.9 2085.7,1536.0 2086.2,1533.4 2086.8,1531.7 2087.4,1537.7 2088.0,1534.8 2088.6,1527.5 2089.1,1538.8 2089.7,1535.7 2090.3,1538.6 2090.9,1535.5 2091.5,1541.4 2092.0,1538.6 2092.6,1533.6 2093.2,1536.3 2093.8,1532.2 2094.4,1538.5 2095.0,1536.0 2095.5,1532.8 2096.1,1534.3 2096.7,1535.5 2097.3,1538.9 2097.9,1533.9 2098.4,1538.0 2099.0,1532.7 2099.6,1535.1 2100.2,1537.6 2100.8,1532.4 2101.3,1536.5 2101.9,1531.7 2102.5,1533.5 2103.1,1534.0 2103.7,1535.4 2104.3,1536.4 2104.8,1535.6 2105.4,1535.4 2106.0,1532.0 2106.6,1537.1 2107.2,1534.3 2107.7,1539.5 2108.3,1537.9 2108.9,1535.8 2109.5,1542.1 2110.1,1536.9 2110.6,1536.7 2111.2,1536.9 2111.8,1535.7 2112.4,1534.6 2113.0,1531.8 2113.5,1540.2 2114.1,1532.4 2114.7,1537.3 2115.3,1540.9 2115.9,1533.2 2116.5,1533.2 2117.0,1534.0 2117.6,1537.2 2118.2,1538.9 2118.8,1535.4 2119.4,1537.0 2119.9,1544.4 2120.5,1539.5 2121.1,1536.4 2121.7,1537.7 2122.3,1534.0 2122.8,1539.2 2123.4,1536.0 2124.0,1537.6 2124.6,1537.2 2125.2,1536.4 2125.8,1534.3 2126.3,1538.4 2126.9,1539.1 2127.5,1531.5 2128.1,1535.4 2128.7,1535.7 2129.2,1535.8 2129.8,1536.8 2130.4,1540.5 2131.0,1538.2 2131.6,1537.7 2132.1,1534.5 2132.7,1532.9 2133.3,1532.6 2133.9,1538.2 2134.5,1535.2 2135.1,1537.7 2135.6,1534.4 2136.2,1536.8 2136.8,1536.0 2137.4,1537.5 2138.0,1534.5 2138.5,1536.3 2139.1,1539.8 2139.7,1536.2 2140.3,1538.2 2140.9,1534.2 2141.4,1537.5 2142.0,1538.0 2142.6,1535.6 2143.2,1538.3 2143.8,1532.3 2144.4,1536.3 2144.9,1536.7 2145.5,1541.3 2146.1,1538.0 2146.7,1537.7 2147.3,1533.9 2147.8,1536.4 2148.4,1537.8 2149.0,1537.1 2149.6,1539.4 2150.2,1536.9 2150.7,1537.8 2151.3,1535.4 2151.9,1539.4 2152.5,1536.7 2153.1,1539.8 2153.7,1542.3 2154.2,1536.7 2154.8,1537.9 2155.4,1537.4 2156.0,1535.2 2156.6,1534.9 2157.1,1538.0 2157.7,1534.3 2158.3,1537.3 2158.9,1535.9 2159.5,1536.3 2160.0,1537.8 2160.6,1540.1 2161.2,1535.3 2161.8,1530.3 2162.4,1539.1 2163.0,1532.1 2163.5,1535.5 2164.1,1536.4 2164.7,1537.8 2165.3,1535.0 2165.9,1534.6 2166.4,1529.8 2167.0,1537.9 2167.6,1537.0 2168.2,1532.6 2168.8,1535.3 2169.3,1535.8 2169.9,1534.0 2170.5,1537.7 2171.1,1535.2 2171.7,1532.4 2172.3,1540.0 2172.8,1538.4 2173.4,1528.4 2174.0,1532.8 2174.6,1537.5 2175.2,1541.7 2175.7,1534.7 2176.3,1533.2 2176.9,1533.7 2177.5,1539.8 2178.1,1539.7 2178.6,1537.8 2179.2,1535.9 2179.8,1535.7 2180.4,1530.2 2181.0,1540.2 2181.6,1534.5 2182.1,1535.7 2182.7,1534.5 2183.3,1532.8 2183.9,1535.7 2184.5,1535.3 2185.0,1532.2 2185.6,1537.3 2186.2,1535.3"/>
<text x="152.5" y="1646.5" font-size="74" text-anchor="middle" textLength="71" lengthAdjust="spacingAndGlyphs">10</text>
<text x="443.1" y="1646.5" font-size="74" text-anchor="middle" textLength="71" lengthAdjust="spacingAndGlyphs">20</text>
<text x="733.7" y="1646.5" font-size="74" text-anchor="middle" textLength="71" lengthAdjust="spacingAndGlyphs">30</text>
<text x="1024.3" y="1646.5" font-size="74" text-anchor="middle" textLength="71" lengthAdjust="spacingAndGlyphs">40</text>
<text x="1315.0" y="1646.5" font-size="74" text-anchor="middle" textLength="71" lengthAdjust="spacingAndGlyphs">50</text>
<text x="1605.6" y="1646.5" font-size="74" text-anchor="middle" textLength="71" lengthAdjust="spacingAndGlyphs">60</text>
<text x="1896.2" y="1646.5" font-size="74" text-anchor="middle" textLength="71" lengthAdjust="spacingAndGlyphs">70</text>
<text x="2186.8" y="1646.5" font-size="74" text-anchor="middle" textLength="71" lengthAdjust="spacingAndGlyphs">80</text>
<text x="120.5" y="1743.5" font-size="84" textLength="215" lengthAdjust="spacingAndGlyphs">CuKα</text>
<text x="885" y="1746" font-size="84" textLength="572" lengthAdjust="spacingAndGlyphs">Two-Theta (deg)</text>
<text transform="translate(74.5,1068) rotate(-90)" font-size="85" textLength="609" lengthAdjust="spacingAndGlyphs">Intensity (Counts)</text>
<path d="M211 84.8H370" stroke="#000" stroke-width="2.4"/>
<text x="390" y="109" font-size="74" textLength="603" lengthAdjust="spacingAndGlyphs">Without coal-bearing</text>
<path d="M192 835.2H351" stroke="#ff0000" stroke-width="2.6"/>
<text x="370" y="859" font-size="74" textLength="661" lengthAdjust="spacingAndGlyphs">With 15% coal-bearing</text>
<polygon points="1802.5,49.4 1809.2,70.1 1831.0,70.1 1813.4,82.9 1820.1,103.7 1802.5,90.9 1784.9,103.7 1791.6,82.9 1774.0,70.1 1795.8,70.1" fill="none" stroke="#000" stroke-width="2" stroke-miterlimit="10"/>
<polygon points="1802.4,132.6 1809.8,155.4 1833.8,155.4 1814.4,169.5 1821.8,192.3 1802.4,178.2 1783.0,192.3 1790.4,169.5 1771.0,155.4 1795.0,155.4" fill="#000"/>
<polygon points="1802.6,223.0 1828.1,248.5 1802.6,274.0 1777.1,248.5" fill="none" stroke="#000" stroke-width="2.4"/>
<polygon points="1802.6,307.2 1829.9,334.5 1802.6,361.8 1775.3,334.5" fill="#000"/>
<text class="ds" x="1834.6" y="101.5" font-size="67">-</text>
<text x="1874" y="102.7" font-size="74" textLength="119.5" lengthAdjust="spacingAndGlyphs">Iron</text>
<text class="ds" x="1834.6" y="186.6" font-size="67">-</text>
<text x="1874" y="187.8" font-size="74" textLength="230.0" lengthAdjust="spacingAndGlyphs">Fayalite</text>
<text class="ds" x="1836.4" y="274.8" font-size="67">-</text>
<text x="1874" y="274.0" font-size="74" textLength="283.0" lengthAdjust="spacingAndGlyphs">Hercynite</text>
<text class="ds" x="1836.4" y="361.0" font-size="67">-</text>
<text x="1874" y="360.2" font-size="74" textLength="209.0" lengthAdjust="spacingAndGlyphs">Mullite</text>
<polygon points="364.5,616.5 370.6,635.2 390.2,635.2 374.3,646.7 380.4,665.3 364.5,653.8 348.6,665.3 354.7,646.7 338.8,635.2 358.4,635.2" fill="#000"/>
<polygon points="464.5,638.5 470.6,657.2 490.2,657.2 474.3,668.7 480.4,687.3 464.5,675.8 448.6,687.3 454.7,668.7 438.8,657.2 458.4,657.2" fill="#000"/>
<polygon points="523.4,643.6 529.5,662.3 549.1,662.3 533.2,673.8 539.3,692.4 523.4,680.9 507.5,692.4 513.6,673.8 497.7,662.3 517.3,662.3" fill="#000"/>
<polygon points="559.8,661.4 565.9,680.1 585.5,680.1 569.6,691.6 575.7,710.2 559.8,698.7 543.9,710.2 550.0,691.6 534.1,680.1 553.7,680.1" fill="#000"/>
<polygon points="604.5,445.3 610.6,464.0 630.2,464.0 614.3,475.5 620.4,494.1 604.5,482.6 588.6,494.1 594.7,475.5 578.8,464.0 598.4,464.0" fill="#000"/>
<polygon points="726.4,666.2 732.5,684.9 752.1,684.9 736.2,696.4 742.3,715.0 726.4,703.5 710.5,715.0 716.6,696.4 700.7,684.9 720.3,684.9" fill="#000"/>
<polygon points="794.5,270.0 800.6,288.7 820.2,288.7 804.3,300.2 810.4,318.8 794.5,307.3 778.6,318.8 784.7,300.2 768.8,288.7 788.4,288.7" fill="#000"/>
<polygon points="915.8,374.3 921.9,393.0 941.5,393.0 925.6,404.5 931.7,423.1 915.8,411.6 899.9,423.1 906.0,404.5 890.1,393.0 909.7,393.0" fill="#000"/>
<polygon points="888.4,455.0 894.5,473.7 914.1,473.7 898.2,485.2 904.3,503.8 888.4,492.3 872.5,503.8 878.6,485.2 862.7,473.7 882.3,473.7" fill="#000"/>
<polygon points="861.5,603.7 867.6,622.4 887.2,622.4 871.3,633.9 877.4,652.5 861.5,641.0 845.6,652.5 851.7,633.9 835.8,622.4 855.4,622.4" fill="#000"/>
<polygon points="956.2,607.6 962.3,626.3 981.9,626.3 966.0,637.8 972.1,656.4 956.2,644.9 940.3,656.4 946.4,637.8 930.5,626.3 950.1,626.3" fill="#000"/>
<polygon points="1010.4,629.8 1016.5,648.5 1036.1,648.5 1020.2,660.0 1026.3,678.6 1010.4,667.1 994.5,678.6 1000.6,660.0 984.7,648.5 1004.3,648.5" fill="#000"/>
<polygon points="1069.5,671.0 1075.6,689.7 1095.2,689.7 1079.3,701.2 1085.4,719.8 1069.5,708.3 1053.6,719.8 1059.7,701.2 1043.8,689.7 1063.4,689.7" fill="#000"/>
<polygon points="1317.6,665.3 1323.7,684.0 1343.3,684.0 1327.4,695.5 1333.5,714.1 1317.6,702.6 1301.7,714.1 1307.8,695.5 1291.9,684.0 1311.5,684.0" fill="#000"/>
<polygon points="1367.3,540.3 1373.4,559.0 1393.0,559.0 1377.1,570.5 1383.2,589.1 1367.3,577.6 1351.4,589.1 1357.5,570.5 1341.6,559.0 1361.2,559.0" fill="#000"/>
<polygon points="1434.7,670.4 1440.8,689.1 1460.4,689.1 1444.5,700.6 1450.6,719.2 1434.7,707.7 1418.8,719.2 1424.9,700.6 1409.0,689.1 1428.6,689.1" fill="#000"/>
<polygon points="1452.8,639.8 1458.9,658.5 1478.5,658.5 1462.6,670.0 1468.7,688.6 1452.8,677.1 1436.9,688.6 1443.0,670.0 1427.1,658.5 1446.7,658.5" fill="#000"/>
<polygon points="1494.1,679.3 1500.2,698.0 1519.8,698.0 1503.9,709.5 1510.0,728.1 1494.1,716.6 1478.2,728.1 1484.3,709.5 1468.4,698.0 1488.0,698.0" fill="#000"/>
<polygon points="1516.8,665.3 1522.9,684.0 1542.5,684.0 1526.6,695.5 1532.7,714.1 1516.8,702.6 1500.9,714.1 1507.0,695.5 1491.1,684.0 1510.7,684.0" fill="#000"/>
<polygon points="1624.7,661.5 1630.8,680.2 1650.4,680.2 1634.5,691.7 1640.6,710.3 1624.7,698.8 1608.8,710.3 1614.9,691.7 1599.0,680.2 1618.6,680.2" fill="#000"/>
<polygon points="1646.7,634.7 1652.8,653.4 1672.4,653.4 1656.5,664.9 1662.6,683.5 1646.7,672.0 1630.8,683.5 1636.9,664.9 1621.0,653.4 1640.6,653.4" fill="#000"/>
<polygon points="1858.8,697.7 1864.9,716.4 1884.5,716.4 1868.6,727.9 1874.7,746.5 1858.8,735.0 1842.9,746.5 1849.0,727.9 1833.1,716.4 1852.7,716.4" fill="#000"/>
<polygon points="1913.9,679.6 1920.0,698.3 1939.6,698.3 1923.7,709.8 1929.8,728.4 1913.9,716.9 1898.0,728.4 1904.1,709.8 1888.2,698.3 1907.8,698.3" fill="#000"/>
<polygon points="2012.7,692.4 2018.8,711.1 2038.4,711.1 2022.5,722.6 2028.6,741.2 2012.7,729.7 1996.8,741.2 2002.9,722.6 1987.0,711.1 2006.6,711.1" fill="#000"/>
<polygon points="1177.6,637.9 1182.9,654.3 1200.2,654.3 1186.2,664.5 1191.6,681.0 1177.6,670.8 1163.6,681.0 1169.0,664.5 1155.0,654.3 1172.3,654.3" fill="none" stroke="#000" stroke-width="2" stroke-miterlimit="10"/>
<polygon points="1773.7,660.8 1779.0,677.2 1796.3,677.2 1782.3,687.4 1787.7,703.9 1773.7,693.7 1759.7,703.9 1765.1,687.4 1751.1,677.2 1768.4,677.2" fill="none" stroke="#000" stroke-width="2" stroke-miterlimit="10"/>
<polygon points="1172.7,862.8 1178.0,879.2 1195.3,879.2 1181.3,889.4 1186.7,905.9 1172.7,895.7 1158.7,905.9 1164.1,889.4 1150.1,879.2 1167.4,879.2" fill="none" stroke="#000" stroke-width="2" stroke-miterlimit="10"/>
<polygon points="1768.5,1406.7 1773.8,1423.1 1791.1,1423.1 1777.1,1433.3 1782.5,1449.8 1768.5,1439.6 1754.5,1449.8 1759.9,1433.3 1745.9,1423.1 1763.2,1423.1" fill="none" stroke="#000" stroke-width="2" stroke-miterlimit="10"/>
<polygon points="346.7,1273.9 369.1,1296.3 346.7,1318.7 324.3,1296.3" fill="#000"/>
<polygon points="636.7,1197.9 659.1,1220.3 636.7,1242.7 614.3,1220.3" fill="#000"/>
<polygon points="622.7,1234.9 645.1,1257.3 622.7,1279.7 600.3,1257.3" fill="#000"/>
<polygon points="771.8,1409.9 794.2,1432.3 771.8,1454.7 749.4,1432.3" fill="#000"/>
<polygon points="838.6,1368.8 861.0,1391.2 838.6,1413.6 816.2,1391.2" fill="#000"/>
<polygon points="897.7,1364.8 920.1,1387.2 897.7,1409.6 875.3,1387.2" fill="#000"/>
<polygon points="947.8,1373.8 970.2,1396.2 947.8,1418.6 925.4,1396.2" fill="#000"/>
<polygon points="1014.6,1440.8 1037.0,1463.2 1014.6,1485.6 992.2,1463.2" fill="#000"/>
<polygon points="1060.7,1350.8 1083.1,1373.2 1060.7,1395.6 1038.3,1373.2" fill="#000"/>
<polygon points="1109.5,1409.9 1131.9,1432.3 1109.5,1454.7 1087.1,1432.3" fill="#000"/>
<polygon points="1272.2,1450.0 1294.6,1472.4 1272.2,1494.8 1249.8,1472.4" fill="#000"/>
<polygon points="1312.9,1454.6 1335.3,1477.0 1312.9,1499.4 1290.5,1477.0" fill="#000"/>
<polygon points="1443.5,1463.6 1465.9,1486.0 1443.5,1508.4 1421.1,1486.0" fill="#000"/>
<polygon points="1542.4,1454.9 1564.8,1477.3 1542.4,1499.7 1520.0,1477.3" fill="#000"/>
<polygon points="1633.4,1427.9 1655.8,1450.3 1633.4,1472.7 1611.0,1450.3" fill="#000"/>
<polygon points="1718.6,1459.9 1741.0,1482.3 1718.6,1504.7 1696.2,1482.3" fill="#000"/>
<polygon points="1921.6,1449.6 1944.0,1472.0 1921.6,1494.4 1899.2,1472.0" fill="#000"/>
<polygon points="2057.5,1454.6 2079.9,1477.0 2057.5,1499.4 2035.1,1477.0" fill="#000"/>
<polygon points="775.9,341.3 796.3,361.7 775.9,382.1 755.5,361.7" fill="none" stroke="#000" stroke-width="2.2"/>
<polygon points="934.0,130.1 954.4,150.5 934.0,170.9 913.6,150.5" fill="none" stroke="#000" stroke-width="2.2"/>
<polygon points="1164.8,602.6 1185.2,623.0 1164.8,643.4 1144.4,623.0" fill="none" stroke="#000" stroke-width="2.2"/>
<polygon points="1476.0,615.6 1496.4,636.0 1476.0,656.4 1455.6,636.0" fill="none" stroke="#000" stroke-width="2.2"/>
<polygon points="1580.1,597.7 1600.5,618.1 1580.1,638.5 1559.7,618.1" fill="none" stroke="#000" stroke-width="2.2"/>
<polygon points="1750.8,580.4 1771.2,600.8 1750.8,621.2 1730.4,600.8" fill="none" stroke="#000" stroke-width="2.2"/>
<polygon points="2094.0,678.6 2114.4,699.0 2094.0,719.4 2073.6,699.0" fill="none" stroke="#000" stroke-width="2.2"/>
<polygon points="771.8,1357.6 792.2,1378.0 771.8,1398.4 751.4,1378.0" fill="none" stroke="#000" stroke-width="2.2"/>
<polygon points="934.8,1425.6 955.2,1446.0 934.8,1466.4 914.4,1446.0" fill="none" stroke="#000" stroke-width="2.2"/>
<polygon points="1480.5,1465.6 1500.9,1486.0 1480.5,1506.4 1460.1,1486.0" fill="none" stroke="#000" stroke-width="2.2"/>
<polygon points="1589.0,1465.6 1609.4,1486.0 1589.0,1506.4 1568.6,1486.0" fill="none" stroke="#000" stroke-width="2.2"/>
<polygon points="1754.9,1443.5 1775.3,1463.9 1754.9,1484.3 1734.5,1463.9" fill="none" stroke="#000" stroke-width="2.2"/>
</svg></body></html>
